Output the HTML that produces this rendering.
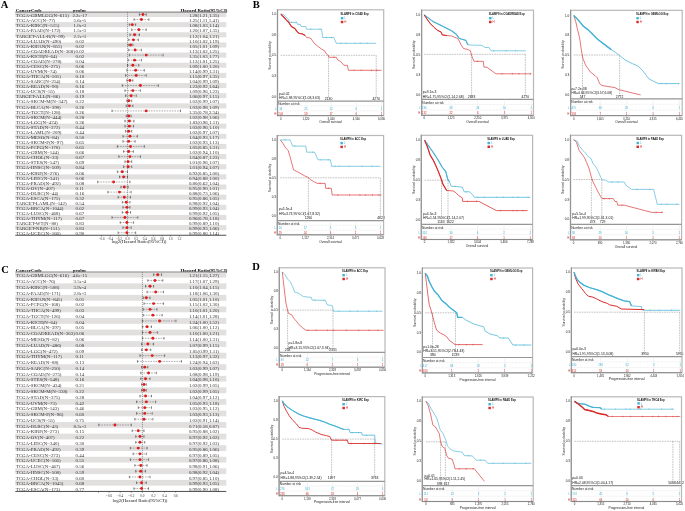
<!DOCTYPE html>
<html><head><meta charset="utf-8"><style>
html,body{margin:0;padding:0;background:#fff;}
body{width:685px;height:511px;overflow:hidden;}
svg{display:block;filter:blur(0.3px);}
</style></head><body>
<svg width="685" height="511" viewBox="0 0 685 511">
<rect width="685" height="511" fill="#fff"/>
<text x="0.8" y="8" font-family='"Liberation Serif", serif' font-weight="bold" font-size="10.5">A</text>
<rect x="15.3" y="11.96" width="211" height="5.08" fill="#e2dfdf"/>
<rect x="15.3" y="22.11" width="211" height="5.08" fill="#e2dfdf"/>
<rect x="15.3" y="32.26" width="211" height="5.08" fill="#e2dfdf"/>
<rect x="15.3" y="42.41" width="211" height="5.08" fill="#e2dfdf"/>
<rect x="15.3" y="52.56" width="211" height="5.08" fill="#e2dfdf"/>
<rect x="15.3" y="62.71" width="211" height="5.08" fill="#e2dfdf"/>
<rect x="15.3" y="72.86" width="211" height="5.08" fill="#e2dfdf"/>
<rect x="15.3" y="83.01" width="211" height="5.08" fill="#e2dfdf"/>
<rect x="15.3" y="93.16" width="211" height="5.08" fill="#e2dfdf"/>
<rect x="15.3" y="103.31" width="211" height="5.08" fill="#e2dfdf"/>
<rect x="15.3" y="113.46" width="211" height="5.08" fill="#e2dfdf"/>
<rect x="15.3" y="123.61" width="211" height="5.08" fill="#e2dfdf"/>
<rect x="15.3" y="133.76" width="211" height="5.08" fill="#e2dfdf"/>
<rect x="15.3" y="143.91" width="211" height="5.08" fill="#e2dfdf"/>
<rect x="15.3" y="154.06" width="211" height="5.08" fill="#e2dfdf"/>
<rect x="15.3" y="164.21" width="211" height="5.08" fill="#e2dfdf"/>
<rect x="15.3" y="174.36" width="211" height="5.08" fill="#e2dfdf"/>
<rect x="15.3" y="184.51" width="211" height="5.08" fill="#e2dfdf"/>
<rect x="15.3" y="194.66" width="211" height="5.08" fill="#e2dfdf"/>
<rect x="15.3" y="204.81" width="211" height="5.08" fill="#e2dfdf"/>
<rect x="15.3" y="214.96" width="211" height="5.08" fill="#e2dfdf"/>
<rect x="15.3" y="225.11" width="211" height="5.08" fill="#e2dfdf"/>
<g font-family='"Liberation Serif", serif' font-weight="bold" font-size="4.9" fill="#000">
<text x="15.8" y="11.66">CancerCode</text>
<text x="79.6" y="11.66" text-anchor="middle">pvalue</text>
<text x="204" y="11.66" text-anchor="middle">Hazard Ratio(95%CI)</text>
</g>
<line x1="15.3" y1="12.11" x2="226.3" y2="12.11" stroke="#8c8c8c" stroke-width="1.1"/>
<g font-family='"Liberation Serif", serif' font-size="4.9" fill="#333">
<text x="15.8" y="17.21">TCGA-GBMLGG(N=615)</text>
<text x="79.8" y="17.21" text-anchor="middle">2.2e-17</text>
<text x="204" y="17.21" text-anchor="middle">1.28(1.21,1.35)</text>
<text x="15.8" y="22.29">TCGA-ACC(N=77)</text>
<text x="79.8" y="22.29" text-anchor="middle">5.6e-5</text>
<text x="204" y="22.29" text-anchor="middle">1.25(1.11,1.41)</text>
<text x="15.8" y="27.36">TCGA-KIRC(N=515)</text>
<text x="79.8" y="27.36" text-anchor="middle">1.0e-3</text>
<text x="204" y="27.36" text-anchor="middle">1.08(1.03,1.14)</text>
<text x="15.8" y="32.44">TCGA-PAAD(N=172)</text>
<text x="79.8" y="32.44" text-anchor="middle">1.5e-3</text>
<text x="204" y="32.44" text-anchor="middle">1.20(1.07,1.35)</text>
<text x="15.8" y="37.51">TARGET-ALL-R(N=99)</text>
<text x="79.8" y="37.51" text-anchor="middle">2.2e-3</text>
<text x="204" y="37.51" text-anchor="middle">1.12(1.04,1.21)</text>
<text x="15.8" y="42.59">TCGA-LUAD(N=490)</text>
<text x="79.8" y="42.59" text-anchor="middle">0.02</text>
<text x="204" y="42.59" text-anchor="middle">1.10(1.02,1.19)</text>
<text x="15.8" y="47.66">TCGA-KIPAN(N=855)</text>
<text x="79.8" y="47.66" text-anchor="middle">0.02</text>
<text x="204" y="47.66" text-anchor="middle">1.05(1.01,1.09)</text>
<text x="15.8" y="52.73">TCGA-COADREAD(N=368)</text>
<text x="79.8" y="52.73" text-anchor="middle">0.02</text>
<text x="204" y="52.73" text-anchor="middle">1.13(1.02,1.25)</text>
<text x="15.8" y="57.81">TCGA-KICH(N=64)</text>
<text x="79.8" y="57.81" text-anchor="middle">0.02</text>
<text x="204" y="57.81" text-anchor="middle">1.35(1.03,1.77)</text>
<text x="15.8" y="62.89">TCGA-COAD(N=278)</text>
<text x="79.8" y="62.89" text-anchor="middle">0.04</text>
<text x="204" y="62.89" text-anchor="middle">1.12(1.01,1.25)</text>
<text x="15.8" y="67.96">TCGA-CESC(N=275)</text>
<text x="79.8" y="67.96" text-anchor="middle">0.06</text>
<text x="204" y="67.96" text-anchor="middle">1.09(1.00,1.20)</text>
<text x="15.8" y="73.03">TCGA-UVM(N=74)</text>
<text x="79.8" y="73.03" text-anchor="middle">0.06</text>
<text x="204" y="73.03" text-anchor="middle">1.14(0.99,1.31)</text>
<text x="15.8" y="78.11">TCGA-THCA(N=501)</text>
<text x="79.8" y="78.11" text-anchor="middle">0.10</text>
<text x="204" y="78.11" text-anchor="middle">1.15(0.97,1.35)</text>
<text x="15.8" y="83.19">TCGA-SARC(N=254)</text>
<text x="79.8" y="83.19" text-anchor="middle">0.14</text>
<text x="204" y="83.19" text-anchor="middle">1.04(0.99,1.09)</text>
<text x="15.8" y="88.26">TCGA-READ(N=90)</text>
<text x="79.8" y="88.26" text-anchor="middle">0.16</text>
<text x="204" y="88.26" text-anchor="middle">1.23(0.92,1.64)</text>
<text x="15.8" y="93.34">TCGA-UCS(N=55)</text>
<text x="79.8" y="93.34" text-anchor="middle">0.18</text>
<text x="204" y="93.34" text-anchor="middle">1.09(0.96,1.23)</text>
<text x="15.8" y="98.41">TARGET-ALL(N=86)</text>
<text x="79.8" y="98.41" text-anchor="middle">0.19</text>
<text x="204" y="98.41" text-anchor="middle">1.06(0.97,1.15)</text>
<text x="15.8" y="103.49">TCGA-SKCM-M(N=347)</text>
<text x="79.8" y="103.49" text-anchor="middle">0.22</text>
<text x="204" y="103.49" text-anchor="middle">1.02(0.99,1.07)</text>
<text x="15.8" y="108.56">TCGA-BLCA(N=398)</text>
<text x="79.8" y="108.56" text-anchor="middle">0.26</text>
<text x="204" y="108.56" text-anchor="middle">1.03(0.98,1.09)</text>
<text x="15.8" y="113.63">TCGA-TGCT(N=128)</text>
<text x="79.8" y="113.63" text-anchor="middle">0.26</text>
<text x="204" y="113.63" text-anchor="middle">1.35(0.78,2.34)</text>
<text x="15.8" y="118.71">TCGA-SKCM(N=444)</text>
<text x="79.8" y="118.71" text-anchor="middle">0.28</text>
<text x="204" y="118.71" text-anchor="middle">1.02(0.98,1.06)</text>
<text x="15.8" y="123.78">TCGA-LGG(N=474)</text>
<text x="79.8" y="123.78" text-anchor="middle">0.36</text>
<text x="204" y="123.78" text-anchor="middle">1.03(0.96,1.11)</text>
<text x="15.8" y="128.86">TCGA-STAD(N=372)</text>
<text x="79.8" y="128.86" text-anchor="middle">0.44</text>
<text x="204" y="128.86" text-anchor="middle">1.03(0.96,1.10)</text>
<text x="15.8" y="133.94">TCGA-LAML(N=209)</text>
<text x="79.8" y="133.94" text-anchor="middle">0.44</text>
<text x="204" y="133.94" text-anchor="middle">1.02(0.97,1.07)</text>
<text x="15.8" y="139.01">TCGA-MESO(N=84)</text>
<text x="79.8" y="139.01" text-anchor="middle">0.50</text>
<text x="204" y="139.01" text-anchor="middle">1.04(0.93,1.17)</text>
<text x="15.8" y="144.09">TCGA-SKCM-P(N=97)</text>
<text x="79.8" y="144.09" text-anchor="middle">0.65</text>
<text x="204" y="144.09" text-anchor="middle">1.02(0.93,1.13)</text>
<text x="15.8" y="149.16">TCGA-PCPG(N=170)</text>
<text x="79.8" y="149.16" text-anchor="middle">0.65</text>
<text x="204" y="149.16" text-anchor="middle">1.05(0.85,1.31)</text>
<text x="15.8" y="154.24">TCGA-GBM(N=144)</text>
<text x="79.8" y="154.24" text-anchor="middle">0.66</text>
<text x="204" y="154.24" text-anchor="middle">1.02(0.94,1.10)</text>
<text x="15.8" y="159.31">TCGA-CHOL(N=33)</text>
<text x="79.8" y="159.31" text-anchor="middle">0.67</text>
<text x="204" y="159.31" text-anchor="middle">1.04(0.87,1.23)</text>
<text x="15.8" y="164.39">TCGA-STES(N=547)</text>
<text x="79.8" y="164.39" text-anchor="middle">0.69</text>
<text x="204" y="164.39" text-anchor="middle">1.01(0.96,1.07)</text>
<text x="15.8" y="169.46">TCGA-HNSC(N=509)</text>
<text x="79.8" y="169.46" text-anchor="middle">0.84</text>
<text x="204" y="169.46" text-anchor="middle">1.01(0.94,1.07)</text>
<text x="15.8" y="174.54">TCGA-KIRP(N=276)</text>
<text x="79.8" y="174.54" text-anchor="middle">0.06</text>
<text x="204" y="174.54" text-anchor="middle">0.92(0.85,1.00)</text>
<text x="15.8" y="179.61">TCGA-LIHC(N=341)</text>
<text x="79.8" y="179.61" text-anchor="middle">0.06</text>
<text x="204" y="179.61" text-anchor="middle">0.94(0.88,1.00)</text>
<text x="15.8" y="184.69">TCGA-PRAD(N=492)</text>
<text x="79.8" y="184.69" text-anchor="middle">0.08</text>
<text x="204" y="184.69" text-anchor="middle">0.80(0.62,1.04)</text>
<text x="15.8" y="189.76">TCGA-OV(N=407)</text>
<text x="79.8" y="189.76" text-anchor="middle">0.11</text>
<text x="204" y="189.76" text-anchor="middle">0.95(0.90,1.01)</text>
<text x="15.8" y="194.84">TCGA-DLBC(N=44)</text>
<text x="79.8" y="194.84" text-anchor="middle">0.16</text>
<text x="204" y="194.84" text-anchor="middle">0.88(0.73,1.06)</text>
<text x="15.8" y="199.91">TCGA-ESCA(N=175)</text>
<text x="79.8" y="199.91" text-anchor="middle">0.32</text>
<text x="204" y="199.91" text-anchor="middle">0.95(0.86,1.05)</text>
<text x="15.8" y="204.99">TARGET-LAML(N=142)</text>
<text x="79.8" y="204.99" text-anchor="middle">0.54</text>
<text x="204" y="204.99" text-anchor="middle">0.98(0.92,1.04)</text>
<text x="15.8" y="210.06">TCGA-BRCA(N=1044)</text>
<text x="79.8" y="210.06" text-anchor="middle">0.62</text>
<text x="204" y="210.06" text-anchor="middle">0.99(0.93,1.04)</text>
<text x="15.8" y="215.14">TCGA-LUSC(N=468)</text>
<text x="79.8" y="215.14" text-anchor="middle">0.67</text>
<text x="204" y="215.14" text-anchor="middle">0.99(0.92,1.05)</text>
<text x="15.8" y="220.21">TCGA-THYM(N=117)</text>
<text x="79.8" y="220.21" text-anchor="middle">0.67</text>
<text x="204" y="220.21" text-anchor="middle">0.96(0.78,1.18)</text>
<text x="15.8" y="225.29">TARGET-WT(N=80)</text>
<text x="79.8" y="225.29" text-anchor="middle">0.83</text>
<text x="204" y="225.29" text-anchor="middle">0.99(0.89,1.10)</text>
<text x="15.8" y="230.36">TARGET-NB(N=151)</text>
<text x="79.8" y="230.36" text-anchor="middle">0.83</text>
<text x="204" y="230.36" text-anchor="middle">0.99(0.93,1.06)</text>
<text x="15.8" y="235.44">TCGA-UCEC(N=166)</text>
<text x="79.8" y="235.44" text-anchor="middle">0.90</text>
<text x="204" y="235.44" text-anchor="middle">0.99(0.86,1.14)</text>
</g>
<line x1="127.5" y1="12.11" x2="127.5" y2="235.26" stroke="#555" stroke-width="0.55" stroke-dasharray="1.1,0.9"/>
<line x1="139.38" y1="14.5" x2="146.2" y2="14.5" stroke="#6a6a6a" stroke-width="0.55" stroke-dasharray="1.6,1"/>
<line x1="139.38" y1="13.25" x2="139.38" y2="15.75" stroke="#333" stroke-width="0.6"/>
<line x1="146.2" y1="13.25" x2="146.2" y2="15.75" stroke="#333" stroke-width="0.6"/>
<circle cx="142.89" cy="14.5" r="1.45" fill="#e01b1b"/>
<line x1="134" y1="19.57" x2="148.91" y2="19.57" stroke="#6a6a6a" stroke-width="0.55" stroke-dasharray="1.6,1"/>
<line x1="134" y1="18.32" x2="134" y2="20.82" stroke="#333" stroke-width="0.6"/>
<line x1="148.91" y1="18.32" x2="148.91" y2="20.82" stroke="#333" stroke-width="0.6"/>
<circle cx="141.41" cy="19.57" r="1.45" fill="#e01b1b"/>
<line x1="129.34" y1="24.65" x2="135.67" y2="24.65" stroke="#6a6a6a" stroke-width="0.55" stroke-dasharray="1.6,1"/>
<line x1="129.34" y1="23.4" x2="129.34" y2="25.9" stroke="#333" stroke-width="0.6"/>
<line x1="135.67" y1="23.4" x2="135.67" y2="25.9" stroke="#333" stroke-width="0.6"/>
<circle cx="132.3" cy="24.65" r="1.45" fill="#e01b1b"/>
<line x1="131.72" y1="29.72" x2="146.2" y2="29.72" stroke="#6a6a6a" stroke-width="0.55" stroke-dasharray="1.6,1"/>
<line x1="131.72" y1="28.47" x2="131.72" y2="30.97" stroke="#333" stroke-width="0.6"/>
<line x1="146.2" y1="28.47" x2="146.2" y2="30.97" stroke="#333" stroke-width="0.6"/>
<circle cx="138.86" cy="29.72" r="1.45" fill="#e01b1b"/>
<line x1="129.94" y1="34.8" x2="139.38" y2="34.8" stroke="#6a6a6a" stroke-width="0.55" stroke-dasharray="1.6,1"/>
<line x1="129.94" y1="33.55" x2="129.94" y2="36.05" stroke="#333" stroke-width="0.6"/>
<line x1="139.38" y1="33.55" x2="139.38" y2="36.05" stroke="#333" stroke-width="0.6"/>
<circle cx="134.56" cy="34.8" r="1.45" fill="#e01b1b"/>
<line x1="128.73" y1="39.87" x2="138.34" y2="39.87" stroke="#6a6a6a" stroke-width="0.55" stroke-dasharray="1.6,1"/>
<line x1="128.73" y1="38.62" x2="128.73" y2="41.12" stroke="#333" stroke-width="0.6"/>
<line x1="138.34" y1="38.62" x2="138.34" y2="41.12" stroke="#333" stroke-width="0.6"/>
<circle cx="133.44" cy="39.87" r="1.45" fill="#e01b1b"/>
<line x1="128.12" y1="44.95" x2="132.87" y2="44.95" stroke="#6a6a6a" stroke-width="0.55" stroke-dasharray="1.6,1"/>
<line x1="128.12" y1="43.7" x2="128.12" y2="46.2" stroke="#333" stroke-width="0.6"/>
<line x1="132.87" y1="43.7" x2="132.87" y2="46.2" stroke="#333" stroke-width="0.6"/>
<circle cx="130.54" cy="44.95" r="1.45" fill="#e01b1b"/>
<line x1="128.73" y1="50.02" x2="141.41" y2="50.02" stroke="#6a6a6a" stroke-width="0.55" stroke-dasharray="1.6,1"/>
<line x1="128.73" y1="48.77" x2="128.73" y2="51.27" stroke="#333" stroke-width="0.6"/>
<line x1="141.41" y1="48.77" x2="141.41" y2="51.27" stroke="#333" stroke-width="0.6"/>
<circle cx="135.12" cy="50.02" r="1.45" fill="#e01b1b"/>
<line x1="129.34" y1="55.1" x2="163.09" y2="55.1" stroke="#6a6a6a" stroke-width="0.55" stroke-dasharray="1.6,1"/>
<line x1="129.34" y1="53.85" x2="129.34" y2="56.35" stroke="#333" stroke-width="0.6"/>
<line x1="163.09" y1="53.85" x2="163.09" y2="56.35" stroke="#333" stroke-width="0.6"/>
<circle cx="146.2" cy="55.1" r="1.45" fill="#e01b1b"/>
<line x1="128.12" y1="60.17" x2="141.41" y2="60.17" stroke="#6a6a6a" stroke-width="0.55" stroke-dasharray="1.6,1"/>
<line x1="128.12" y1="58.92" x2="128.12" y2="61.42" stroke="#333" stroke-width="0.6"/>
<line x1="141.41" y1="58.92" x2="141.41" y2="61.42" stroke="#333" stroke-width="0.6"/>
<circle cx="134.56" cy="60.17" r="1.45" fill="#e01b1b"/>
<line x1="127.5" y1="65.25" x2="138.86" y2="65.25" stroke="#6a6a6a" stroke-width="0.55" stroke-dasharray="1.6,1"/>
<line x1="127.5" y1="64" x2="127.5" y2="66.5" stroke="#333" stroke-width="0.6"/>
<line x1="138.86" y1="64" x2="138.86" y2="66.5" stroke="#333" stroke-width="0.6"/>
<circle cx="132.87" cy="65.25" r="1.45" fill="#e01b1b"/>
<line x1="126.87" y1="70.32" x2="144.33" y2="70.32" stroke="#6a6a6a" stroke-width="0.55" stroke-dasharray="1.6,1"/>
<line x1="126.87" y1="69.07" x2="126.87" y2="71.57" stroke="#333" stroke-width="0.6"/>
<line x1="144.33" y1="69.07" x2="144.33" y2="71.57" stroke="#333" stroke-width="0.6"/>
<circle cx="135.67" cy="70.32" r="1.45" fill="#e01b1b"/>
<line x1="125.6" y1="75.4" x2="146.2" y2="75.4" stroke="#6a6a6a" stroke-width="0.55" stroke-dasharray="1.6,1"/>
<line x1="125.6" y1="74.15" x2="125.6" y2="76.65" stroke="#333" stroke-width="0.6"/>
<line x1="146.2" y1="74.15" x2="146.2" y2="76.65" stroke="#333" stroke-width="0.6"/>
<circle cx="136.21" cy="75.4" r="1.45" fill="#e01b1b"/>
<line x1="126.87" y1="80.47" x2="132.87" y2="80.47" stroke="#6a6a6a" stroke-width="0.55" stroke-dasharray="1.6,1"/>
<line x1="126.87" y1="79.22" x2="126.87" y2="81.72" stroke="#333" stroke-width="0.6"/>
<line x1="132.87" y1="79.22" x2="132.87" y2="81.72" stroke="#333" stroke-width="0.6"/>
<circle cx="129.94" cy="80.47" r="1.45" fill="#e01b1b"/>
<line x1="122.3" y1="85.55" x2="158.33" y2="85.55" stroke="#6a6a6a" stroke-width="0.55" stroke-dasharray="1.6,1"/>
<line x1="122.3" y1="84.3" x2="122.3" y2="86.8" stroke="#333" stroke-width="0.6"/>
<line x1="158.33" y1="84.3" x2="158.33" y2="86.8" stroke="#333" stroke-width="0.6"/>
<circle cx="140.4" cy="85.55" r="1.45" fill="#e01b1b"/>
<line x1="124.96" y1="90.62" x2="140.4" y2="90.62" stroke="#6a6a6a" stroke-width="0.55" stroke-dasharray="1.6,1"/>
<line x1="124.96" y1="89.37" x2="124.96" y2="91.87" stroke="#333" stroke-width="0.6"/>
<line x1="140.4" y1="89.37" x2="140.4" y2="91.87" stroke="#333" stroke-width="0.6"/>
<circle cx="132.87" cy="90.62" r="1.45" fill="#e01b1b"/>
<line x1="125.6" y1="95.7" x2="136.21" y2="95.7" stroke="#6a6a6a" stroke-width="0.55" stroke-dasharray="1.6,1"/>
<line x1="125.6" y1="94.45" x2="125.6" y2="96.95" stroke="#333" stroke-width="0.6"/>
<line x1="136.21" y1="94.45" x2="136.21" y2="96.95" stroke="#333" stroke-width="0.6"/>
<circle cx="131.13" cy="95.7" r="1.45" fill="#e01b1b"/>
<line x1="126.87" y1="100.77" x2="131.72" y2="100.77" stroke="#6a6a6a" stroke-width="0.55" stroke-dasharray="1.6,1"/>
<line x1="126.87" y1="99.52" x2="126.87" y2="102.02" stroke="#333" stroke-width="0.6"/>
<line x1="131.72" y1="99.52" x2="131.72" y2="102.02" stroke="#333" stroke-width="0.6"/>
<circle cx="128.73" cy="100.77" r="1.45" fill="#e01b1b"/>
<line x1="126.24" y1="105.85" x2="132.87" y2="105.85" stroke="#6a6a6a" stroke-width="0.55" stroke-dasharray="1.6,1"/>
<line x1="126.24" y1="104.6" x2="126.24" y2="107.1" stroke="#333" stroke-width="0.6"/>
<line x1="132.87" y1="104.6" x2="132.87" y2="107.1" stroke="#333" stroke-width="0.6"/>
<circle cx="129.34" cy="105.85" r="1.45" fill="#e01b1b"/>
<line x1="112.01" y1="110.92" x2="180.49" y2="110.92" stroke="#6a6a6a" stroke-width="0.55" stroke-dasharray="1.6,1"/>
<line x1="112.01" y1="109.67" x2="112.01" y2="112.17" stroke="#333" stroke-width="0.6"/>
<line x1="180.49" y1="109.67" x2="180.49" y2="112.17" stroke="#333" stroke-width="0.6"/>
<circle cx="146.2" cy="110.92" r="1.45" fill="#e01b1b"/>
<line x1="126.24" y1="116" x2="131.13" y2="116" stroke="#6a6a6a" stroke-width="0.55" stroke-dasharray="1.6,1"/>
<line x1="126.24" y1="114.75" x2="126.24" y2="117.25" stroke="#333" stroke-width="0.6"/>
<line x1="131.13" y1="114.75" x2="131.13" y2="117.25" stroke="#333" stroke-width="0.6"/>
<circle cx="128.73" cy="116" r="1.45" fill="#e01b1b"/>
<line x1="124.96" y1="121.07" x2="134" y2="121.07" stroke="#6a6a6a" stroke-width="0.55" stroke-dasharray="1.6,1"/>
<line x1="124.96" y1="119.82" x2="124.96" y2="122.32" stroke="#333" stroke-width="0.6"/>
<line x1="134" y1="119.82" x2="134" y2="122.32" stroke="#333" stroke-width="0.6"/>
<circle cx="129.34" cy="121.07" r="1.45" fill="#e01b1b"/>
<line x1="124.96" y1="126.15" x2="133.44" y2="126.15" stroke="#6a6a6a" stroke-width="0.55" stroke-dasharray="1.6,1"/>
<line x1="124.96" y1="124.9" x2="124.96" y2="127.4" stroke="#333" stroke-width="0.6"/>
<line x1="133.44" y1="124.9" x2="133.44" y2="127.4" stroke="#333" stroke-width="0.6"/>
<circle cx="129.34" cy="126.15" r="1.45" fill="#e01b1b"/>
<line x1="125.6" y1="131.22" x2="131.72" y2="131.22" stroke="#6a6a6a" stroke-width="0.55" stroke-dasharray="1.6,1"/>
<line x1="125.6" y1="129.97" x2="125.6" y2="132.47" stroke="#333" stroke-width="0.6"/>
<line x1="131.72" y1="129.97" x2="131.72" y2="132.47" stroke="#333" stroke-width="0.6"/>
<circle cx="128.73" cy="131.22" r="1.45" fill="#e01b1b"/>
<line x1="122.98" y1="136.3" x2="137.29" y2="136.3" stroke="#6a6a6a" stroke-width="0.55" stroke-dasharray="1.6,1"/>
<line x1="122.98" y1="135.05" x2="122.98" y2="137.55" stroke="#333" stroke-width="0.6"/>
<line x1="137.29" y1="135.05" x2="137.29" y2="137.55" stroke="#333" stroke-width="0.6"/>
<circle cx="129.94" cy="136.3" r="1.45" fill="#e01b1b"/>
<line x1="122.98" y1="141.37" x2="135.12" y2="141.37" stroke="#6a6a6a" stroke-width="0.55" stroke-dasharray="1.6,1"/>
<line x1="122.98" y1="140.12" x2="122.98" y2="142.62" stroke="#333" stroke-width="0.6"/>
<line x1="135.12" y1="140.12" x2="135.12" y2="142.62" stroke="#333" stroke-width="0.6"/>
<circle cx="128.73" cy="141.37" r="1.45" fill="#e01b1b"/>
<line x1="117.37" y1="146.45" x2="144.33" y2="146.45" stroke="#6a6a6a" stroke-width="0.55" stroke-dasharray="1.6,1"/>
<line x1="117.37" y1="145.2" x2="117.37" y2="147.7" stroke="#333" stroke-width="0.6"/>
<line x1="144.33" y1="145.2" x2="144.33" y2="147.7" stroke="#333" stroke-width="0.6"/>
<circle cx="130.54" cy="146.45" r="1.45" fill="#e01b1b"/>
<line x1="123.64" y1="151.52" x2="133.44" y2="151.52" stroke="#6a6a6a" stroke-width="0.55" stroke-dasharray="1.6,1"/>
<line x1="123.64" y1="150.27" x2="123.64" y2="152.77" stroke="#333" stroke-width="0.6"/>
<line x1="133.44" y1="150.27" x2="133.44" y2="152.77" stroke="#333" stroke-width="0.6"/>
<circle cx="128.73" cy="151.52" r="1.45" fill="#e01b1b"/>
<line x1="118.82" y1="156.6" x2="140.4" y2="156.6" stroke="#6a6a6a" stroke-width="0.55" stroke-dasharray="1.6,1"/>
<line x1="118.82" y1="155.35" x2="118.82" y2="157.85" stroke="#333" stroke-width="0.6"/>
<line x1="140.4" y1="155.35" x2="140.4" y2="157.85" stroke="#333" stroke-width="0.6"/>
<circle cx="129.94" cy="156.6" r="1.45" fill="#e01b1b"/>
<line x1="124.96" y1="161.67" x2="131.72" y2="161.67" stroke="#6a6a6a" stroke-width="0.55" stroke-dasharray="1.6,1"/>
<line x1="124.96" y1="160.42" x2="124.96" y2="162.92" stroke="#333" stroke-width="0.6"/>
<line x1="131.72" y1="160.42" x2="131.72" y2="162.92" stroke="#333" stroke-width="0.6"/>
<circle cx="128.12" cy="161.67" r="1.45" fill="#e01b1b"/>
<line x1="123.64" y1="166.75" x2="131.72" y2="166.75" stroke="#6a6a6a" stroke-width="0.55" stroke-dasharray="1.6,1"/>
<line x1="123.64" y1="165.5" x2="123.64" y2="168" stroke="#333" stroke-width="0.6"/>
<line x1="131.72" y1="165.5" x2="131.72" y2="168" stroke="#333" stroke-width="0.6"/>
<circle cx="128.12" cy="166.75" r="1.45" fill="#e01b1b"/>
<line x1="117.37" y1="171.82" x2="127.5" y2="171.82" stroke="#6a6a6a" stroke-width="0.55" stroke-dasharray="1.6,1"/>
<line x1="117.37" y1="170.57" x2="117.37" y2="173.07" stroke="#333" stroke-width="0.6"/>
<line x1="127.5" y1="170.57" x2="127.5" y2="173.07" stroke="#333" stroke-width="0.6"/>
<circle cx="122.3" cy="171.82" r="1.45" fill="#e01b1b"/>
<line x1="119.53" y1="176.9" x2="127.5" y2="176.9" stroke="#6a6a6a" stroke-width="0.55" stroke-dasharray="1.6,1"/>
<line x1="119.53" y1="175.65" x2="119.53" y2="178.15" stroke="#333" stroke-width="0.6"/>
<line x1="127.5" y1="175.65" x2="127.5" y2="178.15" stroke="#333" stroke-width="0.6"/>
<circle cx="123.64" cy="176.9" r="1.45" fill="#e01b1b"/>
<line x1="97.71" y1="181.97" x2="129.94" y2="181.97" stroke="#6a6a6a" stroke-width="0.55" stroke-dasharray="1.6,1"/>
<line x1="97.71" y1="180.72" x2="97.71" y2="183.22" stroke="#333" stroke-width="0.6"/>
<line x1="129.94" y1="180.72" x2="129.94" y2="183.22" stroke="#333" stroke-width="0.6"/>
<circle cx="113.59" cy="181.97" r="1.45" fill="#e01b1b"/>
<line x1="120.93" y1="187.05" x2="128.12" y2="187.05" stroke="#6a6a6a" stroke-width="0.55" stroke-dasharray="1.6,1"/>
<line x1="120.93" y1="185.8" x2="120.93" y2="188.3" stroke="#333" stroke-width="0.6"/>
<line x1="128.12" y1="185.8" x2="128.12" y2="188.3" stroke="#333" stroke-width="0.6"/>
<circle cx="124.3" cy="187.05" r="1.45" fill="#e01b1b"/>
<line x1="107.89" y1="192.12" x2="131.13" y2="192.12" stroke="#6a6a6a" stroke-width="0.55" stroke-dasharray="1.6,1"/>
<line x1="107.89" y1="190.87" x2="107.89" y2="193.37" stroke="#333" stroke-width="0.6"/>
<line x1="131.13" y1="190.87" x2="131.13" y2="193.37" stroke="#333" stroke-width="0.6"/>
<circle cx="119.53" cy="192.12" r="1.45" fill="#e01b1b"/>
<line x1="118.1" y1="197.2" x2="130.54" y2="197.2" stroke="#6a6a6a" stroke-width="0.55" stroke-dasharray="1.6,1"/>
<line x1="118.1" y1="195.95" x2="118.1" y2="198.45" stroke="#333" stroke-width="0.6"/>
<line x1="130.54" y1="195.95" x2="130.54" y2="198.45" stroke="#333" stroke-width="0.6"/>
<circle cx="124.3" cy="197.2" r="1.45" fill="#e01b1b"/>
<line x1="122.3" y1="202.27" x2="129.94" y2="202.27" stroke="#6a6a6a" stroke-width="0.55" stroke-dasharray="1.6,1"/>
<line x1="122.3" y1="201.02" x2="122.3" y2="203.52" stroke="#333" stroke-width="0.6"/>
<line x1="129.94" y1="201.02" x2="129.94" y2="203.52" stroke="#333" stroke-width="0.6"/>
<circle cx="126.24" cy="202.27" r="1.45" fill="#e01b1b"/>
<line x1="122.98" y1="207.35" x2="129.94" y2="207.35" stroke="#6a6a6a" stroke-width="0.55" stroke-dasharray="1.6,1"/>
<line x1="122.98" y1="206.1" x2="122.98" y2="208.6" stroke="#333" stroke-width="0.6"/>
<line x1="129.94" y1="206.1" x2="129.94" y2="208.6" stroke="#333" stroke-width="0.6"/>
<circle cx="126.87" cy="207.35" r="1.45" fill="#e01b1b"/>
<line x1="122.3" y1="212.42" x2="130.54" y2="212.42" stroke="#6a6a6a" stroke-width="0.55" stroke-dasharray="1.6,1"/>
<line x1="122.3" y1="211.17" x2="122.3" y2="213.67" stroke="#333" stroke-width="0.6"/>
<line x1="130.54" y1="211.17" x2="130.54" y2="213.67" stroke="#333" stroke-width="0.6"/>
<circle cx="126.87" cy="212.42" r="1.45" fill="#e01b1b"/>
<line x1="112.01" y1="217.5" x2="137.82" y2="217.5" stroke="#6a6a6a" stroke-width="0.55" stroke-dasharray="1.6,1"/>
<line x1="112.01" y1="216.25" x2="112.01" y2="218.75" stroke="#333" stroke-width="0.6"/>
<line x1="137.82" y1="216.25" x2="137.82" y2="218.75" stroke="#333" stroke-width="0.6"/>
<circle cx="124.96" cy="217.5" r="1.45" fill="#e01b1b"/>
<line x1="120.24" y1="222.57" x2="133.44" y2="222.57" stroke="#6a6a6a" stroke-width="0.55" stroke-dasharray="1.6,1"/>
<line x1="120.24" y1="221.32" x2="120.24" y2="223.82" stroke="#333" stroke-width="0.6"/>
<line x1="133.44" y1="221.32" x2="133.44" y2="223.82" stroke="#333" stroke-width="0.6"/>
<circle cx="126.87" cy="222.57" r="1.45" fill="#e01b1b"/>
<line x1="122.98" y1="227.65" x2="131.13" y2="227.65" stroke="#6a6a6a" stroke-width="0.55" stroke-dasharray="1.6,1"/>
<line x1="122.98" y1="226.4" x2="122.98" y2="228.9" stroke="#333" stroke-width="0.6"/>
<line x1="131.13" y1="226.4" x2="131.13" y2="228.9" stroke="#333" stroke-width="0.6"/>
<circle cx="126.87" cy="227.65" r="1.45" fill="#e01b1b"/>
<line x1="118.1" y1="232.72" x2="135.67" y2="232.72" stroke="#6a6a6a" stroke-width="0.55" stroke-dasharray="1.6,1"/>
<line x1="118.1" y1="231.47" x2="118.1" y2="233.97" stroke="#333" stroke-width="0.6"/>
<line x1="135.67" y1="231.47" x2="135.67" y2="233.97" stroke="#333" stroke-width="0.6"/>
<circle cx="126.87" cy="232.72" r="1.45" fill="#e01b1b"/>
<line x1="15.3" y1="235.26" x2="226.3" y2="235.26" stroke="#222" stroke-width="0.8"/>
<g font-family='"Liberation Serif", serif' font-size="3.3" fill="#333" text-anchor="middle">
<line x1="101.58" y1="235.26" x2="101.58" y2="236.56" stroke="#333" stroke-width="0.5"/>
<text x="101.58" y="239.86">−0.6</text>
<line x1="110.22" y1="235.26" x2="110.22" y2="236.56" stroke="#333" stroke-width="0.5"/>
<text x="110.22" y="239.86">−0.4</text>
<line x1="118.86" y1="235.26" x2="118.86" y2="236.56" stroke="#333" stroke-width="0.5"/>
<text x="118.86" y="239.86">−0.2</text>
<line x1="127.5" y1="235.26" x2="127.5" y2="236.56" stroke="#333" stroke-width="0.5"/>
<text x="127.5" y="239.86">0.0</text>
<line x1="136.14" y1="235.26" x2="136.14" y2="236.56" stroke="#333" stroke-width="0.5"/>
<text x="136.14" y="239.86">0.2</text>
<line x1="144.78" y1="235.26" x2="144.78" y2="236.56" stroke="#333" stroke-width="0.5"/>
<text x="144.78" y="239.86">0.4</text>
<line x1="153.42" y1="235.26" x2="153.42" y2="236.56" stroke="#333" stroke-width="0.5"/>
<text x="153.42" y="239.86">0.6</text>
<line x1="162.06" y1="235.26" x2="162.06" y2="236.56" stroke="#333" stroke-width="0.5"/>
<text x="162.06" y="239.86">0.8</text>
<line x1="170.7" y1="235.26" x2="170.7" y2="236.56" stroke="#333" stroke-width="0.5"/>
<text x="170.7" y="239.86">1.0</text>
<line x1="179.34" y1="235.26" x2="179.34" y2="236.56" stroke="#333" stroke-width="0.5"/>
<text x="179.34" y="239.86">1.2</text>
</g>
<text x="139" y="243.16" font-family='"Liberation Serif", serif' font-size="4.9" fill="#222" text-anchor="middle">log2(Hazard Ratio(95%CI))</text>
<text x="1.2" y="273.3" font-family='"Liberation Serif", serif' font-weight="bold" font-size="10.5">C</text>
<rect x="15.3" y="271.8" width="211" height="5.78" fill="#e2dfdf"/>
<rect x="15.3" y="283.36" width="211" height="5.78" fill="#e2dfdf"/>
<rect x="15.3" y="294.92" width="211" height="5.78" fill="#e2dfdf"/>
<rect x="15.3" y="306.48" width="211" height="5.78" fill="#e2dfdf"/>
<rect x="15.3" y="318.04" width="211" height="5.78" fill="#e2dfdf"/>
<rect x="15.3" y="329.6" width="211" height="5.78" fill="#e2dfdf"/>
<rect x="15.3" y="341.16" width="211" height="5.78" fill="#e2dfdf"/>
<rect x="15.3" y="352.72" width="211" height="5.78" fill="#e2dfdf"/>
<rect x="15.3" y="364.28" width="211" height="5.78" fill="#e2dfdf"/>
<rect x="15.3" y="375.84" width="211" height="5.78" fill="#e2dfdf"/>
<rect x="15.3" y="387.4" width="211" height="5.78" fill="#e2dfdf"/>
<rect x="15.3" y="398.96" width="211" height="5.78" fill="#e2dfdf"/>
<rect x="15.3" y="410.52" width="211" height="5.78" fill="#e2dfdf"/>
<rect x="15.3" y="422.08" width="211" height="5.78" fill="#e2dfdf"/>
<rect x="15.3" y="433.64" width="211" height="5.78" fill="#e2dfdf"/>
<rect x="15.3" y="445.2" width="211" height="5.78" fill="#e2dfdf"/>
<rect x="15.3" y="456.76" width="211" height="5.78" fill="#e2dfdf"/>
<rect x="15.3" y="468.32" width="211" height="5.78" fill="#e2dfdf"/>
<rect x="15.3" y="479.88" width="211" height="5.78" fill="#e2dfdf"/>
<g font-family='"Liberation Serif", serif' font-weight="bold" font-size="4.9" fill="#000">
<text x="15.8" y="271.5">CancerCode</text>
<text x="79.6" y="271.5" text-anchor="middle">pvalue</text>
<text x="204" y="271.5" text-anchor="middle">Hazard Ratio(95%CI)</text>
</g>
<line x1="15.3" y1="271.95" x2="226.3" y2="271.95" stroke="#8c8c8c" stroke-width="1.1"/>
<g font-family='"Liberation Serif", serif' font-size="4.9" fill="#333">
<text x="15.8" y="277.4">TCGA-GBMLGG(N=616)</text>
<text x="79.8" y="277.4" text-anchor="middle">4.6e-15</text>
<text x="204" y="277.4" text-anchor="middle">1.21(1.15,1.27)</text>
<text x="15.8" y="283.18">TCGA-ACC(N=76)</text>
<text x="79.8" y="283.18" text-anchor="middle">3.5e-4</text>
<text x="204" y="283.18" text-anchor="middle">1.17(1.07,1.29)</text>
<text x="15.8" y="288.96">TCGA-KIRC(N=508)</text>
<text x="79.8" y="288.96" text-anchor="middle">3.9e-4</text>
<text x="204" y="288.96" text-anchor="middle">1.10(1.04,1.15)</text>
<text x="15.8" y="294.74">TCGA-PAAD(N=171)</text>
<text x="79.8" y="294.74" text-anchor="middle">2.8e-3</text>
<text x="204" y="294.74" text-anchor="middle">1.18(1.06,1.30)</text>
<text x="15.8" y="300.52">TCGA-KIPAN(N=845)</text>
<text x="79.8" y="300.52" text-anchor="middle">0.01</text>
<text x="204" y="300.52" text-anchor="middle">1.05(1.01,1.10)</text>
<text x="15.8" y="306.3">TCGA-PCPG(N=168)</text>
<text x="79.8" y="306.3" text-anchor="middle">0.02</text>
<text x="204" y="306.3" text-anchor="middle">1.15(1.02,1.30)</text>
<text x="15.8" y="312.08">TCGA-THCA(N=499)</text>
<text x="79.8" y="312.08" text-anchor="middle">0.03</text>
<text x="204" y="312.08" text-anchor="middle">1.10(1.01,1.20)</text>
<text x="15.8" y="317.86">TCGA-TGCT(N=126)</text>
<text x="79.8" y="317.86" text-anchor="middle">0.04</text>
<text x="204" y="317.86" text-anchor="middle">1.14(1.01,1.28)</text>
<text x="15.8" y="323.64">TCGA-KICH(N=64)</text>
<text x="79.8" y="323.64" text-anchor="middle">0.04</text>
<text x="204" y="323.64" text-anchor="middle">1.24(1.00,1.52)</text>
<text x="15.8" y="329.42">TCGA-BLCA(N=397)</text>
<text x="79.8" y="329.42" text-anchor="middle">0.05</text>
<text x="204" y="329.42" text-anchor="middle">1.06(1.00,1.12)</text>
<text x="15.8" y="335.2">TCGA-COADREAD(N=363)</text>
<text x="79.8" y="335.2" text-anchor="middle">0.06</text>
<text x="204" y="335.2" text-anchor="middle">1.10(1.00,1.21)</text>
<text x="15.8" y="340.98">TCGA-MESO(N=82)</text>
<text x="79.8" y="340.98" text-anchor="middle">0.06</text>
<text x="204" y="340.98" text-anchor="middle">1.14(1.00,1.31)</text>
<text x="15.8" y="346.76">TCGA-LUAD(N=486)</text>
<text x="79.8" y="346.76" text-anchor="middle">0.08</text>
<text x="204" y="346.76" text-anchor="middle">1.07(0.99,1.15)</text>
<text x="15.8" y="352.54">TCGA-LGG(N=472)</text>
<text x="79.8" y="352.54" text-anchor="middle">0.09</text>
<text x="204" y="352.54" text-anchor="middle">1.05(0.99,1.11)</text>
<text x="15.8" y="358.32">TCGA-THYM(N=117)</text>
<text x="79.8" y="358.32" text-anchor="middle">0.11</text>
<text x="204" y="358.32" text-anchor="middle">1.13(0.97,1.32)</text>
<text x="15.8" y="364.1">TCGA-READ(N=88)</text>
<text x="79.8" y="364.1" text-anchor="middle">0.13</text>
<text x="204" y="364.1" text-anchor="middle">1.24(0.94,1.63)</text>
<text x="15.8" y="369.88">TCGA-SARC(N=250)</text>
<text x="79.8" y="369.88" text-anchor="middle">0.14</text>
<text x="204" y="369.88" text-anchor="middle">1.03(0.99,1.07)</text>
<text x="15.8" y="375.66">TCGA-COAD(N=275)</text>
<text x="79.8" y="375.66" text-anchor="middle">0.14</text>
<text x="204" y="375.66" text-anchor="middle">1.08(0.98,1.19)</text>
<text x="15.8" y="381.44">TCGA-STES(N=548)</text>
<text x="79.8" y="381.44" text-anchor="middle">0.16</text>
<text x="204" y="381.44" text-anchor="middle">1.04(0.98,1.10)</text>
<text x="15.8" y="387.22">TCGA-SKCM(N=434)</text>
<text x="79.8" y="387.22" text-anchor="middle">0.21</text>
<text x="204" y="387.22" text-anchor="middle">1.02(0.99,1.05)</text>
<text x="15.8" y="393">TCGA-SKCM-M(N=338)</text>
<text x="79.8" y="393" text-anchor="middle">0.22</text>
<text x="204" y="393" text-anchor="middle">1.02(0.99,1.05)</text>
<text x="15.8" y="398.78">TCGA-STAD(N=375)</text>
<text x="79.8" y="398.78" text-anchor="middle">0.28</text>
<text x="204" y="398.78" text-anchor="middle">1.04(0.97,1.12)</text>
<text x="15.8" y="404.56">TCGA-UVM(N=73)</text>
<text x="79.8" y="404.56" text-anchor="middle">0.42</text>
<text x="204" y="404.56" text-anchor="middle">1.05(0.93,1.18)</text>
<text x="15.8" y="410.34">TCGA-GBM(N=143)</text>
<text x="79.8" y="410.34" text-anchor="middle">0.46</text>
<text x="204" y="410.34" text-anchor="middle">1.03(0.95,1.12)</text>
<text x="15.8" y="416.12">TCGA-SKCM-P(N=96)</text>
<text x="79.8" y="416.12" text-anchor="middle">0.60</text>
<text x="204" y="416.12" text-anchor="middle">1.03(0.93,1.13)</text>
<text x="15.8" y="421.9">TCGA-UCS(N=55)</text>
<text x="79.8" y="421.9" text-anchor="middle">0.75</text>
<text x="204" y="421.9" text-anchor="middle">1.02(0.91,1.14)</text>
<text x="15.8" y="427.68">TCGA-DLBC(N=43)</text>
<text x="79.8" y="427.68" text-anchor="middle">8.3e-3</text>
<text x="204" y="427.68" text-anchor="middle">0.71(0.58,0.87)</text>
<text x="15.8" y="433.46">TCGA-KIRP(N=273)</text>
<text x="79.8" y="433.46" text-anchor="middle">0.15</text>
<text x="204" y="433.46" text-anchor="middle">0.95(0.88,1.02)</text>
<text x="15.8" y="439.24">TCGA-OV(N=407)</text>
<text x="79.8" y="439.24" text-anchor="middle">0.22</text>
<text x="204" y="439.24" text-anchor="middle">0.97(0.92,1.02)</text>
<text x="15.8" y="445.02">TCGA-LIHC(N=340)</text>
<text x="79.8" y="445.02" text-anchor="middle">0.30</text>
<text x="204" y="445.02" text-anchor="middle">0.97(0.92,1.03)</text>
<text x="15.8" y="450.8">TCGA-PRAD(N=492)</text>
<text x="79.8" y="450.8" text-anchor="middle">0.39</text>
<text x="204" y="450.8" text-anchor="middle">0.95(0.86,1.06)</text>
<text x="15.8" y="456.58">TCGA-CESC(N=273)</text>
<text x="79.8" y="456.58" text-anchor="middle">0.44</text>
<text x="204" y="456.58" text-anchor="middle">0.97(0.89,1.05)</text>
<text x="15.8" y="462.36">TCGA-UCEC(N=166)</text>
<text x="79.8" y="462.36" text-anchor="middle">0.55</text>
<text x="204" y="462.36" text-anchor="middle">0.97(0.86,1.08)</text>
<text x="15.8" y="468.14">TCGA-LUSC(N=467)</text>
<text x="79.8" y="468.14" text-anchor="middle">0.56</text>
<text x="204" y="468.14" text-anchor="middle">0.98(0.91,1.06)</text>
<text x="15.8" y="473.92">TCGA-HNSC(N=508)</text>
<text x="79.8" y="473.92" text-anchor="middle">0.59</text>
<text x="204" y="473.92" text-anchor="middle">0.98(0.92,1.04)</text>
<text x="15.8" y="479.7">TCGA-CHOL(N=33)</text>
<text x="79.8" y="479.7" text-anchor="middle">0.60</text>
<text x="204" y="479.7" text-anchor="middle">0.97(0.85,1.10)</text>
<text x="15.8" y="485.48">TCGA-BRCA(N=1043)</text>
<text x="79.8" y="485.48" text-anchor="middle">0.68</text>
<text x="204" y="485.48" text-anchor="middle">0.99(0.93,1.05)</text>
<text x="15.8" y="491.26">TCGA-ESCA(N=173)</text>
<text x="79.8" y="491.26" text-anchor="middle">0.77</text>
<text x="204" y="491.26" text-anchor="middle">0.99(0.90,1.08)</text>
</g>
<line x1="142.4" y1="271.95" x2="142.4" y2="491.44" stroke="#555" stroke-width="0.55" stroke-dasharray="1.1,0.9"/>
<line x1="153.59" y1="274.69" x2="161.54" y2="274.69" stroke="#6a6a6a" stroke-width="0.55" stroke-dasharray="1.6,1"/>
<line x1="153.59" y1="273.44" x2="153.59" y2="275.94" stroke="#333" stroke-width="0.6"/>
<line x1="161.54" y1="273.44" x2="161.54" y2="275.94" stroke="#333" stroke-width="0.6"/>
<circle cx="157.66" cy="274.69" r="1.45" fill="#e01b1b"/>
<line x1="147.82" y1="280.47" x2="162.79" y2="280.47" stroke="#6a6a6a" stroke-width="0.55" stroke-dasharray="1.6,1"/>
<line x1="147.82" y1="279.22" x2="147.82" y2="281.72" stroke="#333" stroke-width="0.6"/>
<line x1="162.79" y1="279.22" x2="162.79" y2="281.72" stroke="#333" stroke-width="0.6"/>
<circle cx="154.97" cy="280.47" r="1.45" fill="#e01b1b"/>
<line x1="145.54" y1="286.25" x2="153.59" y2="286.25" stroke="#6a6a6a" stroke-width="0.55" stroke-dasharray="1.6,1"/>
<line x1="145.54" y1="285" x2="145.54" y2="287.5" stroke="#333" stroke-width="0.6"/>
<line x1="153.59" y1="285" x2="153.59" y2="287.5" stroke="#333" stroke-width="0.6"/>
<circle cx="150.03" cy="286.25" r="1.45" fill="#e01b1b"/>
<line x1="147.07" y1="292.03" x2="163.41" y2="292.03" stroke="#6a6a6a" stroke-width="0.55" stroke-dasharray="1.6,1"/>
<line x1="147.07" y1="290.78" x2="147.07" y2="293.28" stroke="#333" stroke-width="0.6"/>
<line x1="163.41" y1="290.78" x2="163.41" y2="293.28" stroke="#333" stroke-width="0.6"/>
<circle cx="155.65" cy="292.03" r="1.45" fill="#e01b1b"/>
<line x1="143.2" y1="297.81" x2="150.03" y2="297.81" stroke="#6a6a6a" stroke-width="0.55" stroke-dasharray="1.6,1"/>
<line x1="143.2" y1="296.56" x2="143.2" y2="299.06" stroke="#333" stroke-width="0.6"/>
<line x1="150.03" y1="296.56" x2="150.03" y2="299.06" stroke="#333" stroke-width="0.6"/>
<circle cx="146.31" cy="297.81" r="1.45" fill="#e01b1b"/>
<line x1="143.99" y1="303.59" x2="163.41" y2="303.59" stroke="#6a6a6a" stroke-width="0.55" stroke-dasharray="1.6,1"/>
<line x1="143.99" y1="302.34" x2="143.99" y2="304.84" stroke="#333" stroke-width="0.6"/>
<line x1="163.41" y1="302.34" x2="163.41" y2="304.84" stroke="#333" stroke-width="0.6"/>
<circle cx="153.59" cy="303.59" r="1.45" fill="#e01b1b"/>
<line x1="143.2" y1="309.37" x2="157" y2="309.37" stroke="#6a6a6a" stroke-width="0.55" stroke-dasharray="1.6,1"/>
<line x1="143.2" y1="308.12" x2="143.2" y2="310.62" stroke="#333" stroke-width="0.6"/>
<line x1="157" y1="308.12" x2="157" y2="310.62" stroke="#333" stroke-width="0.6"/>
<circle cx="150.03" cy="309.37" r="1.45" fill="#e01b1b"/>
<line x1="143.2" y1="315.15" x2="162.17" y2="315.15" stroke="#6a6a6a" stroke-width="0.55" stroke-dasharray="1.6,1"/>
<line x1="143.2" y1="313.9" x2="143.2" y2="316.4" stroke="#333" stroke-width="0.6"/>
<line x1="162.17" y1="313.9" x2="162.17" y2="316.4" stroke="#333" stroke-width="0.6"/>
<circle cx="152.89" cy="315.15" r="1.45" fill="#e01b1b"/>
<line x1="142.4" y1="320.93" x2="175.93" y2="320.93" stroke="#6a6a6a" stroke-width="0.55" stroke-dasharray="1.6,1"/>
<line x1="142.4" y1="319.68" x2="142.4" y2="322.18" stroke="#333" stroke-width="0.6"/>
<line x1="175.93" y1="319.68" x2="175.93" y2="322.18" stroke="#333" stroke-width="0.6"/>
<circle cx="159.62" cy="320.93" r="1.45" fill="#e01b1b"/>
<line x1="142.4" y1="326.71" x2="151.47" y2="326.71" stroke="#6a6a6a" stroke-width="0.55" stroke-dasharray="1.6,1"/>
<line x1="142.4" y1="325.46" x2="142.4" y2="327.96" stroke="#333" stroke-width="0.6"/>
<line x1="151.47" y1="325.46" x2="151.47" y2="327.96" stroke="#333" stroke-width="0.6"/>
<circle cx="147.07" cy="326.71" r="1.45" fill="#e01b1b"/>
<line x1="142.4" y1="332.49" x2="157.66" y2="332.49" stroke="#6a6a6a" stroke-width="0.55" stroke-dasharray="1.6,1"/>
<line x1="142.4" y1="331.24" x2="142.4" y2="333.74" stroke="#333" stroke-width="0.6"/>
<line x1="157.66" y1="331.24" x2="157.66" y2="333.74" stroke="#333" stroke-width="0.6"/>
<circle cx="150.03" cy="332.49" r="1.45" fill="#e01b1b"/>
<line x1="142.4" y1="338.27" x2="164.02" y2="338.27" stroke="#6a6a6a" stroke-width="0.55" stroke-dasharray="1.6,1"/>
<line x1="142.4" y1="337.02" x2="142.4" y2="339.52" stroke="#333" stroke-width="0.6"/>
<line x1="164.02" y1="337.02" x2="164.02" y2="339.52" stroke="#333" stroke-width="0.6"/>
<circle cx="152.89" cy="338.27" r="1.45" fill="#e01b1b"/>
<line x1="141.6" y1="344.05" x2="153.59" y2="344.05" stroke="#6a6a6a" stroke-width="0.55" stroke-dasharray="1.6,1"/>
<line x1="141.6" y1="342.8" x2="141.6" y2="345.3" stroke="#333" stroke-width="0.6"/>
<line x1="153.59" y1="342.8" x2="153.59" y2="345.3" stroke="#333" stroke-width="0.6"/>
<circle cx="147.82" cy="344.05" r="1.45" fill="#e01b1b"/>
<line x1="141.6" y1="349.83" x2="150.76" y2="349.83" stroke="#6a6a6a" stroke-width="0.55" stroke-dasharray="1.6,1"/>
<line x1="141.6" y1="348.58" x2="141.6" y2="351.08" stroke="#333" stroke-width="0.6"/>
<line x1="150.76" y1="348.58" x2="150.76" y2="351.08" stroke="#333" stroke-width="0.6"/>
<circle cx="146.31" cy="349.83" r="1.45" fill="#e01b1b"/>
<line x1="139.96" y1="355.61" x2="164.63" y2="355.61" stroke="#6a6a6a" stroke-width="0.55" stroke-dasharray="1.6,1"/>
<line x1="139.96" y1="354.36" x2="139.96" y2="356.86" stroke="#333" stroke-width="0.6"/>
<line x1="164.63" y1="354.36" x2="164.63" y2="356.86" stroke="#333" stroke-width="0.6"/>
<circle cx="152.19" cy="355.61" r="1.45" fill="#e01b1b"/>
<line x1="137.45" y1="361.39" x2="181.52" y2="361.39" stroke="#6a6a6a" stroke-width="0.55" stroke-dasharray="1.6,1"/>
<line x1="137.45" y1="360.14" x2="137.45" y2="362.64" stroke="#333" stroke-width="0.6"/>
<line x1="181.52" y1="360.14" x2="181.52" y2="362.64" stroke="#333" stroke-width="0.6"/>
<circle cx="159.62" cy="361.39" r="1.45" fill="#e01b1b"/>
<line x1="141.6" y1="367.17" x2="147.82" y2="367.17" stroke="#6a6a6a" stroke-width="0.55" stroke-dasharray="1.6,1"/>
<line x1="141.6" y1="365.92" x2="141.6" y2="368.42" stroke="#333" stroke-width="0.6"/>
<line x1="147.82" y1="365.92" x2="147.82" y2="368.42" stroke="#333" stroke-width="0.6"/>
<circle cx="144.77" cy="367.17" r="1.45" fill="#e01b1b"/>
<line x1="140.78" y1="372.95" x2="156.33" y2="372.95" stroke="#6a6a6a" stroke-width="0.55" stroke-dasharray="1.6,1"/>
<line x1="140.78" y1="371.7" x2="140.78" y2="374.2" stroke="#333" stroke-width="0.6"/>
<line x1="156.33" y1="371.7" x2="156.33" y2="374.2" stroke="#333" stroke-width="0.6"/>
<circle cx="148.56" cy="372.95" r="1.45" fill="#e01b1b"/>
<line x1="140.78" y1="378.73" x2="150.03" y2="378.73" stroke="#6a6a6a" stroke-width="0.55" stroke-dasharray="1.6,1"/>
<line x1="140.78" y1="377.48" x2="140.78" y2="379.98" stroke="#333" stroke-width="0.6"/>
<line x1="150.03" y1="377.48" x2="150.03" y2="379.98" stroke="#333" stroke-width="0.6"/>
<circle cx="145.54" cy="378.73" r="1.45" fill="#e01b1b"/>
<line x1="141.6" y1="384.51" x2="146.31" y2="384.51" stroke="#6a6a6a" stroke-width="0.55" stroke-dasharray="1.6,1"/>
<line x1="141.6" y1="383.26" x2="141.6" y2="385.76" stroke="#333" stroke-width="0.6"/>
<line x1="146.31" y1="383.26" x2="146.31" y2="385.76" stroke="#333" stroke-width="0.6"/>
<circle cx="143.99" cy="384.51" r="1.45" fill="#e01b1b"/>
<line x1="141.6" y1="390.29" x2="146.31" y2="390.29" stroke="#6a6a6a" stroke-width="0.55" stroke-dasharray="1.6,1"/>
<line x1="141.6" y1="389.04" x2="141.6" y2="391.54" stroke="#333" stroke-width="0.6"/>
<line x1="146.31" y1="389.04" x2="146.31" y2="391.54" stroke="#333" stroke-width="0.6"/>
<circle cx="143.99" cy="390.29" r="1.45" fill="#e01b1b"/>
<line x1="139.96" y1="396.07" x2="151.47" y2="396.07" stroke="#6a6a6a" stroke-width="0.55" stroke-dasharray="1.6,1"/>
<line x1="139.96" y1="394.82" x2="139.96" y2="397.32" stroke="#333" stroke-width="0.6"/>
<line x1="151.47" y1="394.82" x2="151.47" y2="397.32" stroke="#333" stroke-width="0.6"/>
<circle cx="145.54" cy="396.07" r="1.45" fill="#e01b1b"/>
<line x1="136.59" y1="401.85" x2="155.65" y2="401.85" stroke="#6a6a6a" stroke-width="0.55" stroke-dasharray="1.6,1"/>
<line x1="136.59" y1="400.6" x2="136.59" y2="403.1" stroke="#333" stroke-width="0.6"/>
<line x1="155.65" y1="400.6" x2="155.65" y2="403.1" stroke="#333" stroke-width="0.6"/>
<circle cx="146.31" cy="401.85" r="1.45" fill="#e01b1b"/>
<line x1="138.29" y1="407.63" x2="151.47" y2="407.63" stroke="#6a6a6a" stroke-width="0.55" stroke-dasharray="1.6,1"/>
<line x1="138.29" y1="406.38" x2="138.29" y2="408.88" stroke="#333" stroke-width="0.6"/>
<line x1="151.47" y1="406.38" x2="151.47" y2="408.88" stroke="#333" stroke-width="0.6"/>
<circle cx="144.77" cy="407.63" r="1.45" fill="#e01b1b"/>
<line x1="136.59" y1="413.41" x2="152.19" y2="413.41" stroke="#6a6a6a" stroke-width="0.55" stroke-dasharray="1.6,1"/>
<line x1="136.59" y1="412.16" x2="136.59" y2="414.66" stroke="#333" stroke-width="0.6"/>
<line x1="152.19" y1="412.16" x2="152.19" y2="414.66" stroke="#333" stroke-width="0.6"/>
<circle cx="144.77" cy="413.41" r="1.45" fill="#e01b1b"/>
<line x1="134.85" y1="419.19" x2="152.89" y2="419.19" stroke="#6a6a6a" stroke-width="0.55" stroke-dasharray="1.6,1"/>
<line x1="134.85" y1="417.94" x2="134.85" y2="420.44" stroke="#333" stroke-width="0.6"/>
<line x1="152.89" y1="417.94" x2="152.89" y2="420.44" stroke="#333" stroke-width="0.6"/>
<circle cx="143.99" cy="419.19" r="1.45" fill="#e01b1b"/>
<line x1="98.78" y1="424.97" x2="131.25" y2="424.97" stroke="#6a6a6a" stroke-width="0.55" stroke-dasharray="1.6,1"/>
<line x1="98.78" y1="423.72" x2="98.78" y2="426.22" stroke="#333" stroke-width="0.6"/>
<line x1="131.25" y1="423.72" x2="131.25" y2="426.22" stroke="#333" stroke-width="0.6"/>
<circle cx="114.98" cy="424.97" r="1.45" fill="#e01b1b"/>
<line x1="132.16" y1="430.75" x2="143.99" y2="430.75" stroke="#6a6a6a" stroke-width="0.55" stroke-dasharray="1.6,1"/>
<line x1="132.16" y1="429.5" x2="132.16" y2="432" stroke="#333" stroke-width="0.6"/>
<line x1="143.99" y1="429.5" x2="143.99" y2="432" stroke="#333" stroke-width="0.6"/>
<circle cx="138.29" cy="430.75" r="1.45" fill="#e01b1b"/>
<line x1="135.72" y1="436.53" x2="143.99" y2="436.53" stroke="#6a6a6a" stroke-width="0.55" stroke-dasharray="1.6,1"/>
<line x1="135.72" y1="435.28" x2="135.72" y2="437.78" stroke="#333" stroke-width="0.6"/>
<line x1="143.99" y1="435.28" x2="143.99" y2="437.78" stroke="#333" stroke-width="0.6"/>
<circle cx="139.96" cy="436.53" r="1.45" fill="#e01b1b"/>
<line x1="135.72" y1="442.31" x2="144.77" y2="442.31" stroke="#6a6a6a" stroke-width="0.55" stroke-dasharray="1.6,1"/>
<line x1="135.72" y1="441.06" x2="135.72" y2="443.56" stroke="#333" stroke-width="0.6"/>
<line x1="144.77" y1="441.06" x2="144.77" y2="443.56" stroke="#333" stroke-width="0.6"/>
<circle cx="139.96" cy="442.31" r="1.45" fill="#e01b1b"/>
<line x1="130.32" y1="448.09" x2="147.07" y2="448.09" stroke="#6a6a6a" stroke-width="0.55" stroke-dasharray="1.6,1"/>
<line x1="130.32" y1="446.84" x2="130.32" y2="449.34" stroke="#333" stroke-width="0.6"/>
<line x1="147.07" y1="446.84" x2="147.07" y2="449.34" stroke="#333" stroke-width="0.6"/>
<circle cx="138.29" cy="448.09" r="1.45" fill="#e01b1b"/>
<line x1="133.07" y1="453.87" x2="146.31" y2="453.87" stroke="#6a6a6a" stroke-width="0.55" stroke-dasharray="1.6,1"/>
<line x1="133.07" y1="452.62" x2="133.07" y2="455.12" stroke="#333" stroke-width="0.6"/>
<line x1="146.31" y1="452.62" x2="146.31" y2="455.12" stroke="#333" stroke-width="0.6"/>
<circle cx="139.96" cy="453.87" r="1.45" fill="#e01b1b"/>
<line x1="130.32" y1="459.65" x2="148.56" y2="459.65" stroke="#6a6a6a" stroke-width="0.55" stroke-dasharray="1.6,1"/>
<line x1="130.32" y1="458.4" x2="130.32" y2="460.9" stroke="#333" stroke-width="0.6"/>
<line x1="148.56" y1="458.4" x2="148.56" y2="460.9" stroke="#333" stroke-width="0.6"/>
<circle cx="139.96" cy="459.65" r="1.45" fill="#e01b1b"/>
<line x1="134.85" y1="465.43" x2="147.07" y2="465.43" stroke="#6a6a6a" stroke-width="0.55" stroke-dasharray="1.6,1"/>
<line x1="134.85" y1="464.18" x2="134.85" y2="466.68" stroke="#333" stroke-width="0.6"/>
<line x1="147.07" y1="464.18" x2="147.07" y2="466.68" stroke="#333" stroke-width="0.6"/>
<circle cx="140.78" cy="465.43" r="1.45" fill="#e01b1b"/>
<line x1="135.72" y1="471.21" x2="145.54" y2="471.21" stroke="#6a6a6a" stroke-width="0.55" stroke-dasharray="1.6,1"/>
<line x1="135.72" y1="469.96" x2="135.72" y2="472.46" stroke="#333" stroke-width="0.6"/>
<line x1="145.54" y1="469.96" x2="145.54" y2="472.46" stroke="#333" stroke-width="0.6"/>
<circle cx="140.78" cy="471.21" r="1.45" fill="#e01b1b"/>
<line x1="129.39" y1="476.99" x2="150.03" y2="476.99" stroke="#6a6a6a" stroke-width="0.55" stroke-dasharray="1.6,1"/>
<line x1="129.39" y1="475.74" x2="129.39" y2="478.24" stroke="#333" stroke-width="0.6"/>
<line x1="150.03" y1="475.74" x2="150.03" y2="478.24" stroke="#333" stroke-width="0.6"/>
<circle cx="139.96" cy="476.99" r="1.45" fill="#e01b1b"/>
<line x1="136.59" y1="482.77" x2="146.31" y2="482.77" stroke="#6a6a6a" stroke-width="0.55" stroke-dasharray="1.6,1"/>
<line x1="136.59" y1="481.52" x2="136.59" y2="484.02" stroke="#333" stroke-width="0.6"/>
<line x1="146.31" y1="481.52" x2="146.31" y2="484.02" stroke="#333" stroke-width="0.6"/>
<circle cx="141.6" cy="482.77" r="1.45" fill="#e01b1b"/>
<line x1="133.96" y1="488.55" x2="148.56" y2="488.55" stroke="#6a6a6a" stroke-width="0.55" stroke-dasharray="1.6,1"/>
<line x1="133.96" y1="487.3" x2="133.96" y2="489.8" stroke="#333" stroke-width="0.6"/>
<line x1="148.56" y1="487.3" x2="148.56" y2="489.8" stroke="#333" stroke-width="0.6"/>
<circle cx="141.6" cy="488.55" r="1.45" fill="#e01b1b"/>
<line x1="15.3" y1="491.44" x2="226.3" y2="491.44" stroke="#222" stroke-width="0.8"/>
<g font-family='"Liberation Serif", serif' font-size="3.3" fill="#333" text-anchor="middle">
<line x1="109.1" y1="491.44" x2="109.1" y2="492.74" stroke="#333" stroke-width="0.5"/>
<text x="109.1" y="496.94">−0.6</text>
<line x1="120.2" y1="491.44" x2="120.2" y2="492.74" stroke="#333" stroke-width="0.5"/>
<text x="120.2" y="496.94">−0.4</text>
<line x1="131.3" y1="491.44" x2="131.3" y2="492.74" stroke="#333" stroke-width="0.5"/>
<text x="131.3" y="496.94">−0.2</text>
<line x1="142.4" y1="491.44" x2="142.4" y2="492.74" stroke="#333" stroke-width="0.5"/>
<text x="142.4" y="496.94">0.0</text>
<line x1="153.5" y1="491.44" x2="153.5" y2="492.74" stroke="#333" stroke-width="0.5"/>
<text x="153.5" y="496.94">0.2</text>
<line x1="164.6" y1="491.44" x2="164.6" y2="492.74" stroke="#333" stroke-width="0.5"/>
<text x="164.6" y="496.94">0.4</text>
<line x1="175.7" y1="491.44" x2="175.7" y2="492.74" stroke="#333" stroke-width="0.5"/>
<text x="175.7" y="496.94">0.6</text>
<line x1="98.5" y1="491.44" x2="98.5" y2="492.74" stroke="#333" stroke-width="0.5"/>
</g>
<text x="140" y="501.64" font-family='"Liberation Serif", serif' font-size="4.9" fill="#222" text-anchor="middle">log2(Hazard Ratio(95%CI))</text>
<text x="252.8" y="8.0" font-family='"Liberation Serif", serif' font-weight="bold" font-size="10.5">B</text>
<text x="252.2" y="269.8" font-family='"Liberation Serif", serif' font-weight="bold" font-size="10.5">D</text>
<g font-family='"Liberation Sans", sans-serif' font-size="3.0" fill="#111" text-anchor="end">
<text x="276" y="15.25">1.0</text>
<line x1="276.3" y1="14.2" x2="277.5" y2="14.2" stroke="#555" stroke-width="0.3"/>
<text x="276" y="35.85">0.8</text>
<line x1="276.3" y1="34.8" x2="277.5" y2="34.8" stroke="#555" stroke-width="0.3"/>
<text x="276" y="56.45">0.5</text>
<line x1="276.3" y1="55.4" x2="277.5" y2="55.4" stroke="#555" stroke-width="0.3"/>
<text x="276" y="77.05">0.3</text>
<line x1="276.3" y1="76" x2="277.5" y2="76" stroke="#555" stroke-width="0.3"/>
<text x="276" y="97.65">0.0</text>
<line x1="276.3" y1="96.6" x2="277.5" y2="96.6" stroke="#555" stroke-width="0.3"/>
</g>
<text transform="translate(271.3,55.5) rotate(-90)" font-family='"Liberation Sans", sans-serif' font-size="3.4" fill="#333" text-anchor="middle">Survival probability</text>
<line x1="280.8" y1="55.3" x2="376.2" y2="55.3" stroke="#777" stroke-width="0.45" stroke-dasharray="1.6,0.9"/>
<line x1="328.5" y1="55.3" x2="328.5" y2="98.1" stroke="#777" stroke-width="0.45" stroke-dasharray="1.6,0.9"/>
<line x1="376.2" y1="55.3" x2="376.2" y2="98.1" stroke="#777" stroke-width="0.45" stroke-dasharray="1.6,0.9"/>
<polyline points="280.8,14.2 283.2,14.2 286,16.9 288.7,19.6 289.4,22.4 296.9,22.4 297.6,24.4 300.3,24.4 301,26.5 305.8,26.5 306.5,29.2 321.6,29.2 322.7,37.5 333.7,37.5 336.4,43.3 376.2,43.3" fill="none" stroke="#45b3d6" stroke-width="0.65" stroke-linejoin="round"/>
<polyline points="280.8,14.2 283.2,16.5 286,19.6 288.7,22.4 291.4,26.5 294.9,28.5 296.9,31.3 299,33.3 302.4,34 305.1,35.4 306.5,37.5 310.6,38.1 313.4,42.2 316.1,45 318.8,47 321.6,49.1 324.3,50.5 326.4,53.9 328.2,55.3 328.9,57.3 336.4,57.3 337.8,60 340.5,61.4 344,65.3 347.4,65.3 348.4,70.3 381.6,70.3" fill="none" stroke="#d92b2b" stroke-width="0.65" stroke-linejoin="round"/>
<polyline points="280.8,14.2 283.2,16.5 286,19.6 288.7,22.4 291.4,26.5 294.9,28.5 296.9,31.3 299,33.3 302.4,34 305.1,35.4" fill="none" stroke="#d92b2b" stroke-width="1.15" stroke-linejoin="round"/>
<line x1="291.86" y1="21.65" x2="291.86" y2="23.15" stroke="#45b3d6" stroke-width="0.5"/>
<line x1="296.02" y1="21.65" x2="296.02" y2="23.15" stroke="#45b3d6" stroke-width="0.5"/>
<line x1="310.85" y1="28.45" x2="310.85" y2="29.95" stroke="#45b3d6" stroke-width="0.5"/>
<line x1="320.08" y1="28.45" x2="320.08" y2="29.95" stroke="#45b3d6" stroke-width="0.5"/>
<line x1="326.4" y1="36.75" x2="326.4" y2="38.25" stroke="#45b3d6" stroke-width="0.5"/>
<line x1="331.41" y1="36.75" x2="331.41" y2="38.25" stroke="#45b3d6" stroke-width="0.5"/>
<line x1="340.76" y1="42.55" x2="340.76" y2="44.05" stroke="#45b3d6" stroke-width="0.5"/>
<line x1="346.04" y1="42.55" x2="346.04" y2="44.05" stroke="#45b3d6" stroke-width="0.5"/>
<line x1="354.86" y1="42.55" x2="354.86" y2="44.05" stroke="#45b3d6" stroke-width="0.5"/>
<line x1="360.28" y1="42.55" x2="360.28" y2="44.05" stroke="#45b3d6" stroke-width="0.5"/>
<line x1="367.26" y1="42.55" x2="367.26" y2="44.05" stroke="#45b3d6" stroke-width="0.5"/>
<line x1="334.06" y1="56.55" x2="334.06" y2="58.05" stroke="#d92b2b" stroke-width="0.5"/>
<line x1="354.03" y1="69.55" x2="354.03" y2="71.05" stroke="#d92b2b" stroke-width="0.5"/>
<line x1="361.22" y1="69.55" x2="361.22" y2="71.05" stroke="#d92b2b" stroke-width="0.5"/>
<line x1="371.51" y1="69.55" x2="371.51" y2="71.05" stroke="#d92b2b" stroke-width="0.5"/>
<line x1="376.95" y1="69.55" x2="376.95" y2="71.05" stroke="#d92b2b" stroke-width="0.5"/>
<text x="340.5" y="15.4" font-family='"Liberation Sans", sans-serif' font-weight="bold" font-size="2.7" fill="#111">SLAMF9 in COAD Exp</text>
<rect x="340.8" y="17" width="2.5" height="2.4" fill="#45b3d6"/>
<rect x="340.8" y="20.8" width="2.5" height="2.4" fill="#d92b2b"/>
<text x="344.3" y="19.3" font-family='"Liberation Sans", sans-serif' font-size="2.9" fill="#45b3d6">L</text>
<text x="344.3" y="23.1" font-family='"Liberation Sans", sans-serif' font-size="2.9" fill="#d92b2b">H</text>
<g font-family='"Liberation Sans", sans-serif' font-size="3.4" fill="#111">
<text x="279" y="94.8">p=0.02</text>
<text x="279" y="99.2">HR=1.98,95%CI(1.08,3.63)</text>
<text x="328.5" y="99.7" text-anchor="middle">2130</text>
<text x="376.2" y="99.7" text-anchor="middle">4270</text>
</g>
<rect x="277.5" y="9.8" width="106.2" height="105.8" fill="none" stroke="#b8b8b8" stroke-width="1.2"/>
<line x1="277.5" y1="101.2" x2="383.7" y2="101.2" stroke="#959595" stroke-width="1.2"/>
<line x1="277.5" y1="9.2" x2="277.5" y2="116.2" stroke="#959595" stroke-width="1.2"/>
<line x1="277.5" y1="115.6" x2="383.7" y2="115.6" stroke="#8a8a8a" stroke-width="1.0"/>
<line x1="277.5" y1="105.81" x2="383.7" y2="105.81" stroke="#ccc" stroke-width="0.35" stroke-dasharray="0.8,0.6"/>
<line x1="277.5" y1="110.85" x2="383.7" y2="110.85" stroke="#ccc" stroke-width="0.35" stroke-dasharray="0.8,0.6"/>
<text x="278.2" y="105.27" font-family='"Liberation Sans", sans-serif' font-size="3.3" fill="#222">Number at risk</text>
<text x="276.3" y="109.92" font-family='"Liberation Sans", sans-serif' font-size="2.8" fill="#45b3d6" text-anchor="end">L</text>
<text x="276.3" y="114.82" font-family='"Liberation Sans", sans-serif' font-size="2.8" fill="#d92b2b" text-anchor="end">H</text>
<text x="280.7" y="110.02" font-family='"Liberation Sans", sans-serif' font-size="2.8" fill="#45b3d6" text-anchor="middle">34</text>
<text x="280.7" y="114.92" font-family='"Liberation Sans", sans-serif' font-size="2.8" fill="#d92b2b" text-anchor="middle">204</text>
<line x1="280.7" y1="115.6" x2="280.7" y2="116.5" stroke="#444" stroke-width="0.35"/>
<text x="280.7" y="119.5" font-family='"Liberation Sans", sans-serif' font-size="2.8" fill="#222" text-anchor="middle">0</text>
<line x1="305.9" y1="101.2" x2="305.9" y2="115.6" stroke="#ddd" stroke-width="0.35"/>
<text x="305.9" y="110.02" font-family='"Liberation Sans", sans-serif' font-size="2.8" fill="#45b3d6" text-anchor="middle">25</text>
<text x="305.9" y="114.92" font-family='"Liberation Sans", sans-serif' font-size="2.8" fill="#d92b2b" text-anchor="middle">58</text>
<line x1="305.9" y1="115.6" x2="305.9" y2="116.5" stroke="#444" stroke-width="0.35"/>
<text x="305.9" y="119.5" font-family='"Liberation Sans", sans-serif' font-size="2.8" fill="#222" text-anchor="middle">1,520</text>
<line x1="331.1" y1="101.2" x2="331.1" y2="115.6" stroke="#ddd" stroke-width="0.35"/>
<text x="331.1" y="110.02" font-family='"Liberation Sans", sans-serif' font-size="2.8" fill="#45b3d6" text-anchor="middle">12</text>
<text x="331.1" y="114.92" font-family='"Liberation Sans", sans-serif' font-size="2.8" fill="#d92b2b" text-anchor="middle">17</text>
<line x1="331.1" y1="115.6" x2="331.1" y2="116.5" stroke="#444" stroke-width="0.35"/>
<text x="331.1" y="119.5" font-family='"Liberation Sans", sans-serif' font-size="2.8" fill="#222" text-anchor="middle">3,040</text>
<line x1="356.3" y1="101.2" x2="356.3" y2="115.6" stroke="#ddd" stroke-width="0.35"/>
<text x="356.3" y="110.02" font-family='"Liberation Sans", sans-serif' font-size="2.8" fill="#45b3d6" text-anchor="middle">6</text>
<text x="356.3" y="114.92" font-family='"Liberation Sans", sans-serif' font-size="2.8" fill="#d92b2b" text-anchor="middle">6</text>
<line x1="356.3" y1="115.6" x2="356.3" y2="116.5" stroke="#444" stroke-width="0.35"/>
<text x="356.3" y="119.5" font-family='"Liberation Sans", sans-serif' font-size="2.8" fill="#222" text-anchor="middle">4,560</text>
<line x1="381.5" y1="101.2" x2="381.5" y2="115.6" stroke="#ddd" stroke-width="0.35"/>
<text x="381.5" y="110.02" font-family='"Liberation Sans", sans-serif' font-size="2.8" fill="#45b3d6" text-anchor="middle">1</text>
<text x="381.5" y="114.92" font-family='"Liberation Sans", sans-serif' font-size="2.8" fill="#d92b2b" text-anchor="middle">1</text>
<line x1="381.5" y1="115.6" x2="381.5" y2="116.5" stroke="#444" stroke-width="0.35"/>
<text x="381.5" y="119.5" font-family='"Liberation Sans", sans-serif' font-size="2.8" fill="#222" text-anchor="middle">6,080</text>
<text x="330.6" y="123.3" font-family='"Liberation Sans", sans-serif' font-size="3.3" fill="#222" text-anchor="middle">Overall survival</text>
<g font-family='"Liberation Sans", sans-serif' font-size="3.0" fill="#111" text-anchor="end">
<text x="420.1" y="15.95">1.0</text>
<line x1="420.4" y1="14.9" x2="421.6" y2="14.9" stroke="#555" stroke-width="0.3"/>
<text x="420.1" y="35.9">0.8</text>
<line x1="420.4" y1="34.85" x2="421.6" y2="34.85" stroke="#555" stroke-width="0.3"/>
<text x="420.1" y="55.85">0.5</text>
<line x1="420.4" y1="54.8" x2="421.6" y2="54.8" stroke="#555" stroke-width="0.3"/>
<text x="420.1" y="75.8">0.3</text>
<line x1="420.4" y1="74.75" x2="421.6" y2="74.75" stroke="#555" stroke-width="0.3"/>
<text x="420.1" y="95.75">0.0</text>
<line x1="420.4" y1="94.7" x2="421.6" y2="94.7" stroke="#555" stroke-width="0.3"/>
</g>
<text transform="translate(415.4,54.8) rotate(-90)" font-family='"Liberation Sans", sans-serif' font-size="3.4" fill="#333" text-anchor="middle">Survival probability</text>
<line x1="424.2" y1="54.3" x2="525.3" y2="54.3" stroke="#777" stroke-width="0.45" stroke-dasharray="1.6,0.9"/>
<line x1="471.6" y1="54.3" x2="471.6" y2="96.2" stroke="#777" stroke-width="0.45" stroke-dasharray="1.6,0.9"/>
<line x1="525.3" y1="54.3" x2="525.3" y2="96.2" stroke="#777" stroke-width="0.45" stroke-dasharray="1.6,0.9"/>
<polyline points="424.2,14.9 428.2,17.9 432.9,21.4 437.6,23.8 442.3,26.1 447,28.5 451.6,30.8 456.3,34.3 458.7,37.9 461,39 465.7,40.2 468,44.9 482.2,45.4 484.5,47.3 489.2,47.7 491.1,50.8 525.8,50.8" fill="none" stroke="#45b3d6" stroke-width="0.65" stroke-linejoin="round"/>
<polyline points="424.2,14.9 427,19.1 430.5,23.8 434,27.3 437.6,30.4 441.1,32 442.3,35 447,35.5 451.6,36 456.3,37.9 458.7,39.7 461,44.9 463.4,48.4 468,49.6 470.4,50.8 471.6,55.5 474,61.3 483.3,61.3 484,67.2 486.9,67.2 495,73.1 496.2,73.8 531.2,73.8" fill="none" stroke="#d92b2b" stroke-width="0.65" stroke-linejoin="round"/>
<polyline points="424.2,14.9 428.2,17.9 432.9,21.4 437.6,23.8 442.3,26.1 447,28.5 451.6,30.8 456.3,34.3 458.7,37.9 461,39 465.7,40.2 468,44.9" fill="none" stroke="#45b3d6" stroke-width="1.1" stroke-linejoin="round"/>
<polyline points="424.2,14.9 427,19.1 430.5,23.8 434,27.3 437.6,30.4 441.1,32 442.3,35 447,35.5" fill="none" stroke="#d92b2b" stroke-width="1.0" stroke-linejoin="round"/>
<line x1="493.63" y1="50.05" x2="493.63" y2="51.55" stroke="#45b3d6" stroke-width="0.5"/>
<line x1="506.04" y1="50.05" x2="506.04" y2="51.55" stroke="#45b3d6" stroke-width="0.5"/>
<line x1="515.65" y1="50.05" x2="515.65" y2="51.55" stroke="#45b3d6" stroke-width="0.5"/>
<line x1="477.45" y1="60.55" x2="477.45" y2="62.05" stroke="#d92b2b" stroke-width="0.5"/>
<line x1="502.09" y1="73.05" x2="502.09" y2="74.55" stroke="#d92b2b" stroke-width="0.5"/>
<line x1="512.31" y1="73.05" x2="512.31" y2="74.55" stroke="#d92b2b" stroke-width="0.5"/>
<line x1="518.89" y1="73.05" x2="518.89" y2="74.55" stroke="#d92b2b" stroke-width="0.5"/>
<line x1="530.67" y1="73.05" x2="530.67" y2="74.55" stroke="#d92b2b" stroke-width="0.5"/>
<text x="488.7" y="15.4" font-family='"Liberation Sans", sans-serif' font-weight="bold" font-size="2.7" fill="#111">SLAMF9 in COADREAD Exp</text>
<rect x="489" y="17" width="2.5" height="2.4" fill="#45b3d6"/>
<rect x="489" y="20.8" width="2.5" height="2.4" fill="#d92b2b"/>
<text x="492.5" y="19.3" font-family='"Liberation Sans", sans-serif' font-size="2.9" fill="#45b3d6">L</text>
<text x="492.5" y="23.1" font-family='"Liberation Sans", sans-serif' font-size="2.9" fill="#d92b2b">H</text>
<g font-family='"Liberation Sans", sans-serif' font-size="3.4" fill="#111">
<text x="422.8" y="92.5">p=9.1e-3</text>
<text x="422.8" y="97.6">HR=1.75,95%CI(1.14,2.68)</text>
<text x="471.6" y="97.6" text-anchor="middle">2683</text>
<text x="525.3" y="97.6" text-anchor="middle">4270</text>
</g>
<rect x="421.6" y="10.2" width="111.9" height="105.1" fill="none" stroke="#b8b8b8" stroke-width="1.2"/>
<line x1="421.6" y1="99.4" x2="533.5" y2="99.4" stroke="#959595" stroke-width="1.2"/>
<line x1="421.6" y1="9.6" x2="421.6" y2="115.9" stroke="#959595" stroke-width="1.2"/>
<line x1="421.6" y1="115.3" x2="533.5" y2="115.3" stroke="#8a8a8a" stroke-width="1.0"/>
<line x1="421.6" y1="104.49" x2="533.5" y2="104.49" stroke="#ccc" stroke-width="0.35" stroke-dasharray="0.8,0.6"/>
<line x1="421.6" y1="110.05" x2="533.5" y2="110.05" stroke="#ccc" stroke-width="0.35" stroke-dasharray="0.8,0.6"/>
<text x="422.3" y="103.8" font-family='"Liberation Sans", sans-serif' font-size="3.3" fill="#222">Number at risk</text>
<text x="420.4" y="108.94" font-family='"Liberation Sans", sans-serif' font-size="2.8" fill="#45b3d6" text-anchor="end">L</text>
<text x="420.4" y="114.35" font-family='"Liberation Sans", sans-serif' font-size="2.8" fill="#d92b2b" text-anchor="end">H</text>
<text x="424.2" y="109.05" font-family='"Liberation Sans", sans-serif' font-size="2.8" fill="#45b3d6" text-anchor="middle">236</text>
<text x="424.2" y="114.45" font-family='"Liberation Sans", sans-serif' font-size="2.8" fill="#d92b2b" text-anchor="middle">132</text>
<line x1="424.2" y1="115.3" x2="424.2" y2="116.2" stroke="#444" stroke-width="0.35"/>
<text x="424.2" y="119.2" font-family='"Liberation Sans", sans-serif' font-size="2.8" fill="#222" text-anchor="middle">0</text>
<line x1="450.95" y1="99.4" x2="450.95" y2="115.3" stroke="#ddd" stroke-width="0.35"/>
<text x="450.95" y="109.05" font-family='"Liberation Sans", sans-serif' font-size="2.8" fill="#45b3d6" text-anchor="middle">68</text>
<text x="450.95" y="114.45" font-family='"Liberation Sans", sans-serif' font-size="2.8" fill="#d92b2b" text-anchor="middle">22</text>
<line x1="450.95" y1="115.3" x2="450.95" y2="116.2" stroke="#444" stroke-width="0.35"/>
<text x="450.95" y="119.2" font-family='"Liberation Sans", sans-serif' font-size="2.8" fill="#222" text-anchor="middle">1,125</text>
<line x1="477.7" y1="99.4" x2="477.7" y2="115.3" stroke="#ddd" stroke-width="0.35"/>
<text x="477.7" y="109.05" font-family='"Liberation Sans", sans-serif' font-size="2.8" fill="#45b3d6" text-anchor="middle">24</text>
<text x="477.7" y="114.45" font-family='"Liberation Sans", sans-serif' font-size="2.8" fill="#d92b2b" text-anchor="middle">6</text>
<line x1="477.7" y1="115.3" x2="477.7" y2="116.2" stroke="#444" stroke-width="0.35"/>
<text x="477.7" y="119.2" font-family='"Liberation Sans", sans-serif' font-size="2.8" fill="#222" text-anchor="middle">2,250</text>
<line x1="504.45" y1="99.4" x2="504.45" y2="115.3" stroke="#ddd" stroke-width="0.35"/>
<text x="504.45" y="109.05" font-family='"Liberation Sans", sans-serif' font-size="2.8" fill="#45b3d6" text-anchor="middle">10</text>
<text x="504.45" y="114.45" font-family='"Liberation Sans", sans-serif' font-size="2.8" fill="#d92b2b" text-anchor="middle">3</text>
<line x1="504.45" y1="115.3" x2="504.45" y2="116.2" stroke="#444" stroke-width="0.35"/>
<text x="504.45" y="119.2" font-family='"Liberation Sans", sans-serif' font-size="2.8" fill="#222" text-anchor="middle">3,375</text>
<line x1="531.2" y1="99.4" x2="531.2" y2="115.3" stroke="#ddd" stroke-width="0.35"/>
<text x="531.2" y="109.05" font-family='"Liberation Sans", sans-serif' font-size="2.8" fill="#45b3d6" text-anchor="middle">1</text>
<text x="531.2" y="114.45" font-family='"Liberation Sans", sans-serif' font-size="2.8" fill="#d92b2b" text-anchor="middle">1</text>
<line x1="531.2" y1="115.3" x2="531.2" y2="116.2" stroke="#444" stroke-width="0.35"/>
<text x="531.2" y="119.2" font-family='"Liberation Sans", sans-serif' font-size="2.8" fill="#222" text-anchor="middle">4,500</text>
<text x="477.55" y="123" font-family='"Liberation Sans", sans-serif' font-size="3.3" fill="#222" text-anchor="middle">Overall survival</text>
<g font-family='"Liberation Sans", sans-serif' font-size="3.0" fill="#111" text-anchor="end">
<text x="569.1" y="16.65">1.0</text>
<line x1="569.4" y1="15.6" x2="570.6" y2="15.6" stroke="#555" stroke-width="0.3"/>
<text x="569.1" y="36.48">0.8</text>
<line x1="569.4" y1="35.43" x2="570.6" y2="35.43" stroke="#555" stroke-width="0.3"/>
<text x="569.1" y="56.3">0.5</text>
<line x1="569.4" y1="55.25" x2="570.6" y2="55.25" stroke="#555" stroke-width="0.3"/>
<text x="569.1" y="76.12">0.3</text>
<line x1="569.4" y1="75.08" x2="570.6" y2="75.08" stroke="#555" stroke-width="0.3"/>
<text x="569.1" y="95.95">0.0</text>
<line x1="569.4" y1="94.9" x2="570.6" y2="94.9" stroke="#555" stroke-width="0.3"/>
</g>
<text transform="translate(564.4,54.6) rotate(-90)" font-family='"Liberation Sans", sans-serif' font-size="3.4" fill="#333" text-anchor="middle">Survival probability</text>
<line x1="573.8" y1="55" x2="619.6" y2="55" stroke="#777" stroke-width="0.45" stroke-dasharray="1.6,0.9"/>
<line x1="582.5" y1="55" x2="582.5" y2="96.4" stroke="#777" stroke-width="0.45" stroke-dasharray="1.6,0.9"/>
<line x1="619.6" y1="55" x2="619.6" y2="96.4" stroke="#777" stroke-width="0.45" stroke-dasharray="1.6,0.9"/>
<polyline points="573.8,15.6 578.5,20.3 583.2,26.1 587.9,29.6 592.6,34.3 597.3,39 602,42.6 606.6,46.1 611.3,49.6 616,52.7 619.6,55.5 625.4,60.2 632.5,63.7 637.2,65.6 641.9,69.6 648.9,78.9 653.6,81.3 658.3,83.6 679.4,83.6" fill="none" stroke="#45b3d6" stroke-width="0.75" stroke-linejoin="round"/>
<polyline points="573.8,15.6 575.7,21.4 577.3,28.5 579.6,37.9 581.3,49.6 582.7,57.8 585.5,64.9 590.2,71.9 594.9,75.4 597.3,77.8 599.6,83.6 602,85.5 614.9,87.6 618.4,89.5 623.1,90.7 632.5,93 640.7,94.9" fill="none" stroke="#d92b2b" stroke-width="0.65" stroke-linejoin="round"/>
<polyline points="573.8,15.6 578.5,20.3 583.2,26.1 587.9,29.6 592.6,34.3 597.3,39 602,42.6 606.6,46.1 611.3,49.6" fill="none" stroke="#45b3d6" stroke-width="1.4" stroke-linejoin="round"/>
<line x1="661.5" y1="82.85" x2="661.5" y2="84.35" stroke="#45b3d6" stroke-width="0.5"/>
<line x1="665.94" y1="82.85" x2="665.94" y2="84.35" stroke="#45b3d6" stroke-width="0.5"/>
<line x1="678.54" y1="82.85" x2="678.54" y2="84.35" stroke="#45b3d6" stroke-width="0.5"/>
<text x="636" y="15.4" font-family='"Liberation Sans", sans-serif' font-weight="bold" font-size="2.7" fill="#111">SLAMF9 in GBMLGG Exp</text>
<rect x="636.3" y="17" width="2.5" height="2.4" fill="#45b3d6"/>
<rect x="636.3" y="20.8" width="2.5" height="2.4" fill="#d92b2b"/>
<text x="639.8" y="19.3" font-family='"Liberation Sans", sans-serif' font-size="2.9" fill="#45b3d6">L</text>
<text x="639.8" y="23.1" font-family='"Liberation Sans", sans-serif' font-size="2.9" fill="#d92b2b">H</text>
<g font-family='"Liberation Sans", sans-serif' font-size="3.4" fill="#111">
<text x="571.2" y="89.9">p=7.2e-38</text>
<text x="571.2" y="93.9">HR=4.66,95%CI(3.57,6.08)</text>
<text x="582.5" y="98.3" text-anchor="middle">547</text>
<text x="619.6" y="98.3" text-anchor="middle">2772</text>
</g>
<rect x="570.6" y="10.3" width="111.6" height="105.3" fill="none" stroke="#b8b8b8" stroke-width="1.2"/>
<line x1="570.6" y1="98.9" x2="682.2" y2="98.9" stroke="#959595" stroke-width="1.2"/>
<line x1="570.6" y1="9.7" x2="570.6" y2="116.2" stroke="#959595" stroke-width="1.2"/>
<line x1="570.6" y1="115.6" x2="682.2" y2="115.6" stroke="#8a8a8a" stroke-width="1.0"/>
<line x1="570.6" y1="104.24" x2="682.2" y2="104.24" stroke="#ccc" stroke-width="0.35" stroke-dasharray="0.8,0.6"/>
<line x1="570.6" y1="110.09" x2="682.2" y2="110.09" stroke="#ccc" stroke-width="0.35" stroke-dasharray="0.8,0.6"/>
<text x="571.3" y="103.47" font-family='"Liberation Sans", sans-serif' font-size="3.3" fill="#222">Number at risk</text>
<text x="569.4" y="108.89" font-family='"Liberation Sans", sans-serif' font-size="2.8" fill="#45b3d6" text-anchor="end">L</text>
<text x="569.4" y="114.56" font-family='"Liberation Sans", sans-serif' font-size="2.8" fill="#d92b2b" text-anchor="end">H</text>
<text x="573.8" y="108.99" font-family='"Liberation Sans", sans-serif' font-size="2.8" fill="#45b3d6" text-anchor="middle">475</text>
<text x="573.8" y="114.66" font-family='"Liberation Sans", sans-serif' font-size="2.8" fill="#d92b2b" text-anchor="middle">194</text>
<line x1="573.8" y1="115.6" x2="573.8" y2="116.5" stroke="#444" stroke-width="0.35"/>
<text x="573.8" y="119.5" font-family='"Liberation Sans", sans-serif' font-size="2.8" fill="#222" text-anchor="middle">0</text>
<line x1="600.2" y1="98.9" x2="600.2" y2="115.6" stroke="#ddd" stroke-width="0.35"/>
<text x="600.2" y="108.99" font-family='"Liberation Sans", sans-serif' font-size="2.8" fill="#45b3d6" text-anchor="middle">68</text>
<text x="600.2" y="114.66" font-family='"Liberation Sans", sans-serif' font-size="2.8" fill="#d92b2b" text-anchor="middle">7</text>
<line x1="600.2" y1="115.6" x2="600.2" y2="116.5" stroke="#444" stroke-width="0.35"/>
<text x="600.2" y="119.5" font-family='"Liberation Sans", sans-serif' font-size="2.8" fill="#222" text-anchor="middle">1,605</text>
<line x1="626.6" y1="98.9" x2="626.6" y2="115.6" stroke="#ddd" stroke-width="0.35"/>
<text x="626.6" y="108.99" font-family='"Liberation Sans", sans-serif' font-size="2.8" fill="#45b3d6" text-anchor="middle">29</text>
<text x="626.6" y="114.66" font-family='"Liberation Sans", sans-serif' font-size="2.8" fill="#d92b2b" text-anchor="middle">1</text>
<line x1="626.6" y1="115.6" x2="626.6" y2="116.5" stroke="#444" stroke-width="0.35"/>
<text x="626.6" y="119.5" font-family='"Liberation Sans", sans-serif' font-size="2.8" fill="#222" text-anchor="middle">3,210</text>
<line x1="653" y1="98.9" x2="653" y2="115.6" stroke="#ddd" stroke-width="0.35"/>
<text x="653" y="108.99" font-family='"Liberation Sans", sans-serif' font-size="2.8" fill="#45b3d6" text-anchor="middle">4</text>
<text x="653" y="114.66" font-family='"Liberation Sans", sans-serif' font-size="2.8" fill="#d92b2b" text-anchor="middle">1</text>
<line x1="653" y1="115.6" x2="653" y2="116.5" stroke="#444" stroke-width="0.35"/>
<text x="653" y="119.5" font-family='"Liberation Sans", sans-serif' font-size="2.8" fill="#222" text-anchor="middle">4,815</text>
<line x1="679.4" y1="98.9" x2="679.4" y2="115.6" stroke="#ddd" stroke-width="0.35"/>
<text x="679.4" y="108.99" font-family='"Liberation Sans", sans-serif' font-size="2.8" fill="#45b3d6" text-anchor="middle">1</text>
<text x="679.4" y="114.66" font-family='"Liberation Sans", sans-serif' font-size="2.8" fill="#d92b2b" text-anchor="middle">1</text>
<line x1="679.4" y1="115.6" x2="679.4" y2="116.5" stroke="#444" stroke-width="0.35"/>
<text x="679.4" y="119.5" font-family='"Liberation Sans", sans-serif' font-size="2.8" fill="#222" text-anchor="middle">6,420</text>
<text x="626.4" y="123.3" font-family='"Liberation Sans", sans-serif' font-size="3.3" fill="#222" text-anchor="middle">Overall survival</text>
<g font-family='"Liberation Sans", sans-serif' font-size="3.0" fill="#111" text-anchor="end">
<text x="275.8" y="140.95">1.0</text>
<line x1="276.1" y1="139.9" x2="277.3" y2="139.9" stroke="#555" stroke-width="0.3"/>
<text x="275.8" y="159.88">0.8</text>
<line x1="276.1" y1="158.82" x2="277.3" y2="158.82" stroke="#555" stroke-width="0.3"/>
<text x="275.8" y="178.8">0.5</text>
<line x1="276.1" y1="177.75" x2="277.3" y2="177.75" stroke="#555" stroke-width="0.3"/>
<text x="275.8" y="197.73">0.3</text>
<line x1="276.1" y1="196.68" x2="277.3" y2="196.68" stroke="#555" stroke-width="0.3"/>
<text x="275.8" y="216.65">0.0</text>
<line x1="276.1" y1="215.6" x2="277.3" y2="215.6" stroke="#555" stroke-width="0.3"/>
</g>
<text transform="translate(271.1,178.1) rotate(-90)" font-family='"Liberation Sans", sans-serif' font-size="3.4" fill="#333" text-anchor="middle">Survival probability</text>
<line x1="280.3" y1="177.8" x2="380.4" y2="177.8" stroke="#777" stroke-width="0.45" stroke-dasharray="1.6,0.9"/>
<line x1="308.4" y1="177.8" x2="308.4" y2="217.1" stroke="#777" stroke-width="0.45" stroke-dasharray="1.6,0.9"/>
<line x1="380.4" y1="177.8" x2="380.4" y2="217.1" stroke="#777" stroke-width="0.45" stroke-dasharray="1.6,0.9"/>
<polyline points="280.3,139.9 290,139.9 290.8,141.5 292.6,146.1 305.8,146.1 306.7,152.2 314.6,152.2 318.1,159.8 330.4,159.8 331.7,166.3 380.6,166.3" fill="none" stroke="#45b3d6" stroke-width="0.65" stroke-linejoin="round"/>
<polyline points="280.3,139.9 282.9,143.4 285.6,147.8 288.2,150.5 290,156.6 291.7,162.8 293.5,169.8 297,171.6 301.4,173.9 304.9,176 308.4,177.4 310.2,179.5 313.7,181.6 317.2,183.4 325.2,183.4 325.7,188.3 331.3,188.3 332.2,195 381.5,195" fill="none" stroke="#d92b2b" stroke-width="0.65" stroke-linejoin="round"/>
<line x1="285.12" y1="139.15" x2="285.12" y2="140.65" stroke="#45b3d6" stroke-width="0.5"/>
<line x1="294.76" y1="145.35" x2="294.76" y2="146.85" stroke="#45b3d6" stroke-width="0.5"/>
<line x1="312.69" y1="151.45" x2="312.69" y2="152.95" stroke="#45b3d6" stroke-width="0.5"/>
<line x1="320.34" y1="159.05" x2="320.34" y2="160.55" stroke="#45b3d6" stroke-width="0.5"/>
<line x1="328.18" y1="159.05" x2="328.18" y2="160.55" stroke="#45b3d6" stroke-width="0.5"/>
<line x1="335.26" y1="165.55" x2="335.26" y2="167.05" stroke="#45b3d6" stroke-width="0.5"/>
<line x1="339.33" y1="165.55" x2="339.33" y2="167.05" stroke="#45b3d6" stroke-width="0.5"/>
<line x1="349.05" y1="165.55" x2="349.05" y2="167.05" stroke="#45b3d6" stroke-width="0.5"/>
<line x1="362.03" y1="165.55" x2="362.03" y2="167.05" stroke="#45b3d6" stroke-width="0.5"/>
<line x1="372.06" y1="165.55" x2="372.06" y2="167.05" stroke="#45b3d6" stroke-width="0.5"/>
<line x1="320.03" y1="182.65" x2="320.03" y2="184.15" stroke="#d92b2b" stroke-width="0.5"/>
<line x1="328.5" y1="187.55" x2="328.5" y2="189.05" stroke="#d92b2b" stroke-width="0.5"/>
<line x1="337.72" y1="194.25" x2="337.72" y2="195.75" stroke="#d92b2b" stroke-width="0.5"/>
<line x1="349.52" y1="194.25" x2="349.52" y2="195.75" stroke="#d92b2b" stroke-width="0.5"/>
<line x1="359.95" y1="194.25" x2="359.95" y2="195.75" stroke="#d92b2b" stroke-width="0.5"/>
<line x1="365.65" y1="194.25" x2="365.65" y2="195.75" stroke="#d92b2b" stroke-width="0.5"/>
<line x1="372.43" y1="194.25" x2="372.43" y2="195.75" stroke="#d92b2b" stroke-width="0.5"/>
<line x1="378.95" y1="194.25" x2="378.95" y2="195.75" stroke="#d92b2b" stroke-width="0.5"/>
<text x="340.1" y="140.3" font-family='"Liberation Sans", sans-serif' font-weight="bold" font-size="2.7" fill="#111">SLAMF9 in ACC Exp</text>
<rect x="340.4" y="141.9" width="2.5" height="2.4" fill="#45b3d6"/>
<rect x="340.4" y="145.7" width="2.5" height="2.4" fill="#d92b2b"/>
<text x="343.9" y="144.2" font-family='"Liberation Sans", sans-serif' font-size="2.9" fill="#45b3d6">L</text>
<text x="343.9" y="148" font-family='"Liberation Sans", sans-serif' font-size="2.9" fill="#d92b2b">H</text>
<g font-family='"Liberation Sans", sans-serif' font-size="3.4" fill="#111">
<text x="279" y="210.3">p=5.5e-4</text>
<text x="279" y="214.8">HR=3.73,95%CI(1.67,8.32)</text>
<text x="308.4" y="218.7" text-anchor="middle">1260</text>
<text x="381" y="218.7" text-anchor="middle">4628</text>
</g>
<rect x="277.3" y="135.5" width="106.3" height="99.3" fill="none" stroke="#b8b8b8" stroke-width="1.2"/>
<line x1="277.3" y1="220.7" x2="383.6" y2="220.7" stroke="#959595" stroke-width="1.2"/>
<line x1="277.3" y1="134.9" x2="277.3" y2="235.4" stroke="#959595" stroke-width="1.2"/>
<line x1="277.3" y1="234.8" x2="383.6" y2="234.8" stroke="#8a8a8a" stroke-width="1.0"/>
<line x1="277.3" y1="225.21" x2="383.6" y2="225.21" stroke="#ccc" stroke-width="0.35" stroke-dasharray="0.8,0.6"/>
<line x1="277.3" y1="230.15" x2="383.6" y2="230.15" stroke="#ccc" stroke-width="0.35" stroke-dasharray="0.8,0.6"/>
<text x="278" y="224.7" font-family='"Liberation Sans", sans-serif' font-size="3.3" fill="#222">Number at risk</text>
<text x="276.1" y="229.26" font-family='"Liberation Sans", sans-serif' font-size="2.8" fill="#45b3d6" text-anchor="end">L</text>
<text x="276.1" y="234.05" font-family='"Liberation Sans", sans-serif' font-size="2.8" fill="#d92b2b" text-anchor="end">H</text>
<text x="280.3" y="229.36" font-family='"Liberation Sans", sans-serif' font-size="2.8" fill="#45b3d6" text-anchor="middle">20</text>
<text x="280.3" y="234.15" font-family='"Liberation Sans", sans-serif' font-size="2.8" fill="#d92b2b" text-anchor="middle">29</text>
<line x1="280.3" y1="234.8" x2="280.3" y2="235.7" stroke="#444" stroke-width="0.35"/>
<text x="280.3" y="238.7" font-family='"Liberation Sans", sans-serif' font-size="2.8" fill="#222" text-anchor="middle">0</text>
<line x1="305.38" y1="220.7" x2="305.38" y2="234.8" stroke="#ddd" stroke-width="0.35"/>
<text x="305.38" y="229.36" font-family='"Liberation Sans", sans-serif' font-size="2.8" fill="#45b3d6" text-anchor="middle">17</text>
<text x="305.38" y="234.15" font-family='"Liberation Sans", sans-serif' font-size="2.8" fill="#d92b2b" text-anchor="middle">14</text>
<line x1="305.38" y1="234.8" x2="305.38" y2="235.7" stroke="#444" stroke-width="0.35"/>
<text x="305.38" y="238.7" font-family='"Liberation Sans", sans-serif' font-size="2.8" fill="#222" text-anchor="middle">1,157</text>
<line x1="330.45" y1="220.7" x2="330.45" y2="234.8" stroke="#ddd" stroke-width="0.35"/>
<text x="330.45" y="229.36" font-family='"Liberation Sans", sans-serif' font-size="2.8" fill="#45b3d6" text-anchor="middle">9</text>
<text x="330.45" y="234.15" font-family='"Liberation Sans", sans-serif' font-size="2.8" fill="#d92b2b" text-anchor="middle">6</text>
<line x1="330.45" y1="234.8" x2="330.45" y2="235.7" stroke="#444" stroke-width="0.35"/>
<text x="330.45" y="238.7" font-family='"Liberation Sans", sans-serif' font-size="2.8" fill="#222" text-anchor="middle">2,314</text>
<line x1="355.53" y1="220.7" x2="355.53" y2="234.8" stroke="#ddd" stroke-width="0.35"/>
<text x="355.53" y="229.36" font-family='"Liberation Sans", sans-serif' font-size="2.8" fill="#45b3d6" text-anchor="middle">3</text>
<text x="355.53" y="234.15" font-family='"Liberation Sans", sans-serif' font-size="2.8" fill="#d92b2b" text-anchor="middle">2</text>
<line x1="355.53" y1="234.8" x2="355.53" y2="235.7" stroke="#444" stroke-width="0.35"/>
<text x="355.53" y="238.7" font-family='"Liberation Sans", sans-serif' font-size="2.8" fill="#222" text-anchor="middle">3,471</text>
<line x1="380.6" y1="220.7" x2="380.6" y2="234.8" stroke="#ddd" stroke-width="0.35"/>
<text x="380.6" y="229.36" font-family='"Liberation Sans", sans-serif' font-size="2.8" fill="#45b3d6" text-anchor="middle">1</text>
<text x="380.6" y="234.15" font-family='"Liberation Sans", sans-serif' font-size="2.8" fill="#d92b2b" text-anchor="middle">1</text>
<line x1="380.6" y1="234.8" x2="380.6" y2="235.7" stroke="#444" stroke-width="0.35"/>
<text x="380.6" y="238.7" font-family='"Liberation Sans", sans-serif' font-size="2.8" fill="#222" text-anchor="middle">4,628</text>
<text x="330.45" y="242.5" font-family='"Liberation Sans", sans-serif' font-size="3.3" fill="#222" text-anchor="middle">Overall survival</text>
<g font-family='"Liberation Sans", sans-serif' font-size="3.0" fill="#111" text-anchor="end">
<text x="419.8" y="141.35">1.0</text>
<line x1="420.1" y1="140.3" x2="421.3" y2="140.3" stroke="#555" stroke-width="0.3"/>
<text x="419.8" y="161.28">0.8</text>
<line x1="420.1" y1="160.23" x2="421.3" y2="160.23" stroke="#555" stroke-width="0.3"/>
<text x="419.8" y="181.2">0.5</text>
<line x1="420.1" y1="180.15" x2="421.3" y2="180.15" stroke="#555" stroke-width="0.3"/>
<text x="419.8" y="201.12">0.3</text>
<line x1="420.1" y1="200.07" x2="421.3" y2="200.07" stroke="#555" stroke-width="0.3"/>
<text x="419.8" y="221.05">0.0</text>
<line x1="420.1" y1="220" x2="421.3" y2="220" stroke="#555" stroke-width="0.3"/>
</g>
<text transform="translate(415.1,179.85) rotate(-90)" font-family='"Liberation Sans", sans-serif' font-size="3.4" fill="#333" text-anchor="middle">Survival probability</text>
<line x1="424.6" y1="180.2" x2="448" y2="180.2" stroke="#777" stroke-width="0.45" stroke-dasharray="1.6,0.9"/>
<line x1="441.5" y1="180.2" x2="441.5" y2="221.5" stroke="#777" stroke-width="0.45" stroke-dasharray="1.6,0.9"/>
<line x1="448" y1="180.2" x2="448" y2="221.5" stroke="#777" stroke-width="0.45" stroke-dasharray="1.6,0.9"/>
<polyline points="424.6,140.3 429.2,146.7 433.8,153.2 438.4,160.5 442.1,167 445.8,171.6 447.6,178.9 449.4,181.7 451.3,186.3 456.8,186.6 462.3,187.2 464.2,191.8 469.7,191.8 472.4,194.6 474.3,197.3 530.4,197.3" fill="none" stroke="#45b3d6" stroke-width="0.75" stroke-linejoin="round"/>
<polyline points="424.6,140.3 427.4,146.7 430.1,155 432.9,159.6 435.6,165.1 438.4,171.6 441.2,178.9 443,184.4 446.7,190.5 453.1,190.9 455.9,192.7 458.6,195.5 462.3,197.9 462.7,201.4 478.9,201.4 496.4,210.6 527.6,210.6" fill="none" stroke="#d92b2b" stroke-width="0.75" stroke-linejoin="round"/>
<polyline points="424.6,140.3 429.2,146.7 433.8,153.2 438.4,160.5 442.1,167 445.8,171.6 447.6,178.9 449.4,181.7" fill="none" stroke="#45b3d6" stroke-width="1.1" stroke-linejoin="round"/>
<polyline points="424.6,140.3 427.4,146.7 430.1,155 432.9,159.6 435.6,165.1 438.4,171.6 441.2,178.9 443,184.4 446.7,190.5" fill="none" stroke="#d92b2b" stroke-width="1.1" stroke-linejoin="round"/>
<line x1="455.09" y1="185.55" x2="455.09" y2="187.05" stroke="#45b3d6" stroke-width="0.5"/>
<line x1="466.34" y1="191.05" x2="466.34" y2="192.55" stroke="#45b3d6" stroke-width="0.5"/>
<line x1="477.61" y1="196.55" x2="477.61" y2="198.05" stroke="#45b3d6" stroke-width="0.5"/>
<line x1="484.45" y1="196.55" x2="484.45" y2="198.05" stroke="#45b3d6" stroke-width="0.5"/>
<line x1="496.72" y1="196.55" x2="496.72" y2="198.05" stroke="#45b3d6" stroke-width="0.5"/>
<line x1="503.63" y1="196.55" x2="503.63" y2="198.05" stroke="#45b3d6" stroke-width="0.5"/>
<line x1="513.01" y1="196.55" x2="513.01" y2="198.05" stroke="#45b3d6" stroke-width="0.5"/>
<line x1="517.9" y1="196.55" x2="517.9" y2="198.05" stroke="#45b3d6" stroke-width="0.5"/>
<line x1="528" y1="196.55" x2="528" y2="198.05" stroke="#45b3d6" stroke-width="0.5"/>
<line x1="467.42" y1="200.65" x2="467.42" y2="202.15" stroke="#d92b2b" stroke-width="0.5"/>
<line x1="476.49" y1="200.65" x2="476.49" y2="202.15" stroke="#d92b2b" stroke-width="0.5"/>
<line x1="500.43" y1="209.85" x2="500.43" y2="211.35" stroke="#d92b2b" stroke-width="0.5"/>
<line x1="513" y1="209.85" x2="513" y2="211.35" stroke="#d92b2b" stroke-width="0.5"/>
<line x1="517.11" y1="209.85" x2="517.11" y2="211.35" stroke="#d92b2b" stroke-width="0.5"/>
<line x1="522.88" y1="209.85" x2="522.88" y2="211.35" stroke="#d92b2b" stroke-width="0.5"/>
<text x="487.2" y="140.2" font-family='"Liberation Sans", sans-serif' font-weight="bold" font-size="2.7" fill="#111">SLAMF9 in LUAD Exp</text>
<rect x="487.5" y="141.8" width="2.5" height="2.4" fill="#45b3d6"/>
<rect x="487.5" y="145.6" width="2.5" height="2.4" fill="#d92b2b"/>
<text x="491" y="144.1" font-family='"Liberation Sans", sans-serif' font-size="2.9" fill="#45b3d6">L</text>
<text x="491" y="147.9" font-family='"Liberation Sans", sans-serif' font-size="2.9" fill="#d92b2b">H</text>
<g font-family='"Liberation Sans", sans-serif' font-size="3.4" fill="#111">
<text x="423" y="214.5">p=4.5e-3</text>
<text x="423" y="218.7">HR=1.54,95%CI(1.14,2.07)</text>
<text x="441" y="222.8" text-anchor="middle">1143</text>
<text x="450" y="222.8" text-anchor="middle">1622</text>
</g>
<rect x="421.3" y="135.3" width="111.3" height="104.2" fill="none" stroke="#b8b8b8" stroke-width="1.2"/>
<line x1="421.3" y1="224.4" x2="532.6" y2="224.4" stroke="#959595" stroke-width="1.2"/>
<line x1="421.3" y1="134.7" x2="421.3" y2="240.1" stroke="#959595" stroke-width="1.2"/>
<line x1="421.3" y1="239.5" x2="532.6" y2="239.5" stroke="#8a8a8a" stroke-width="1.0"/>
<line x1="421.3" y1="229.23" x2="532.6" y2="229.23" stroke="#ccc" stroke-width="0.35" stroke-dasharray="0.8,0.6"/>
<line x1="421.3" y1="234.52" x2="532.6" y2="234.52" stroke="#ccc" stroke-width="0.35" stroke-dasharray="0.8,0.6"/>
<text x="422" y="228.62" font-family='"Liberation Sans", sans-serif' font-size="3.3" fill="#222">Number at risk</text>
<text x="420.1" y="233.51" font-family='"Liberation Sans", sans-serif' font-size="2.8" fill="#45b3d6" text-anchor="end">L</text>
<text x="420.1" y="238.64" font-family='"Liberation Sans", sans-serif' font-size="2.8" fill="#d92b2b" text-anchor="end">H</text>
<text x="424.6" y="233.61" font-family='"Liberation Sans", sans-serif' font-size="2.8" fill="#45b3d6" text-anchor="middle">324</text>
<text x="424.6" y="238.74" font-family='"Liberation Sans", sans-serif' font-size="2.8" fill="#d92b2b" text-anchor="middle">166</text>
<line x1="424.6" y1="239.5" x2="424.6" y2="240.4" stroke="#444" stroke-width="0.35"/>
<text x="424.6" y="243.4" font-family='"Liberation Sans", sans-serif' font-size="2.8" fill="#222" text-anchor="middle">0</text>
<line x1="451.05" y1="224.4" x2="451.05" y2="239.5" stroke="#ddd" stroke-width="0.35"/>
<text x="451.05" y="233.61" font-family='"Liberation Sans", sans-serif' font-size="2.8" fill="#45b3d6" text-anchor="middle">30</text>
<text x="451.05" y="238.74" font-family='"Liberation Sans", sans-serif' font-size="2.8" fill="#d92b2b" text-anchor="middle">17</text>
<line x1="451.05" y1="239.5" x2="451.05" y2="240.4" stroke="#444" stroke-width="0.35"/>
<text x="451.05" y="243.4" font-family='"Liberation Sans", sans-serif' font-size="2.8" fill="#222" text-anchor="middle">1,822</text>
<line x1="477.5" y1="224.4" x2="477.5" y2="239.5" stroke="#ddd" stroke-width="0.35"/>
<text x="477.5" y="233.61" font-family='"Liberation Sans", sans-serif' font-size="2.8" fill="#45b3d6" text-anchor="middle">6</text>
<text x="477.5" y="238.74" font-family='"Liberation Sans", sans-serif' font-size="2.8" fill="#d92b2b" text-anchor="middle">4</text>
<line x1="477.5" y1="239.5" x2="477.5" y2="240.4" stroke="#444" stroke-width="0.35"/>
<text x="477.5" y="243.4" font-family='"Liberation Sans", sans-serif' font-size="2.8" fill="#222" text-anchor="middle">3,644</text>
<line x1="503.95" y1="224.4" x2="503.95" y2="239.5" stroke="#ddd" stroke-width="0.35"/>
<text x="503.95" y="233.61" font-family='"Liberation Sans", sans-serif' font-size="2.8" fill="#45b3d6" text-anchor="middle">2</text>
<text x="503.95" y="238.74" font-family='"Liberation Sans", sans-serif' font-size="2.8" fill="#d92b2b" text-anchor="middle">1</text>
<line x1="503.95" y1="239.5" x2="503.95" y2="240.4" stroke="#444" stroke-width="0.35"/>
<text x="503.95" y="243.4" font-family='"Liberation Sans", sans-serif' font-size="2.8" fill="#222" text-anchor="middle">5,466</text>
<line x1="530.4" y1="224.4" x2="530.4" y2="239.5" stroke="#ddd" stroke-width="0.35"/>
<text x="530.4" y="233.61" font-family='"Liberation Sans", sans-serif' font-size="2.8" fill="#45b3d6" text-anchor="middle">1</text>
<text x="530.4" y="238.74" font-family='"Liberation Sans", sans-serif' font-size="2.8" fill="#d92b2b" text-anchor="middle">1</text>
<line x1="530.4" y1="239.5" x2="530.4" y2="240.4" stroke="#444" stroke-width="0.35"/>
<text x="530.4" y="243.4" font-family='"Liberation Sans", sans-serif' font-size="2.8" fill="#222" text-anchor="middle">7,288</text>
<text x="476.95" y="247.2" font-family='"Liberation Sans", sans-serif' font-size="3.3" fill="#222" text-anchor="middle">Overall survival</text>
<g font-family='"Liberation Sans", sans-serif' font-size="3.0" fill="#111" text-anchor="end">
<text x="569" y="140.75">1.0</text>
<line x1="569.3" y1="139.7" x2="570.5" y2="139.7" stroke="#555" stroke-width="0.3"/>
<text x="569" y="160.68">0.8</text>
<line x1="569.3" y1="159.62" x2="570.5" y2="159.62" stroke="#555" stroke-width="0.3"/>
<text x="569" y="180.6">0.5</text>
<line x1="569.3" y1="179.55" x2="570.5" y2="179.55" stroke="#555" stroke-width="0.3"/>
<text x="569" y="200.53">0.3</text>
<line x1="569.3" y1="199.47" x2="570.5" y2="199.47" stroke="#555" stroke-width="0.3"/>
<text x="569" y="220.45">0.0</text>
<line x1="569.3" y1="219.4" x2="570.5" y2="219.4" stroke="#555" stroke-width="0.3"/>
</g>
<text transform="translate(564.3,179.85) rotate(-90)" font-family='"Liberation Sans", sans-serif' font-size="3.4" fill="#333" text-anchor="middle">Survival probability</text>
<line x1="573.6" y1="179.5" x2="601.8" y2="179.5" stroke="#777" stroke-width="0.45" stroke-dasharray="1.6,0.9"/>
<line x1="591.4" y1="179.5" x2="591.4" y2="220.9" stroke="#777" stroke-width="0.45" stroke-dasharray="1.6,0.9"/>
<line x1="601.8" y1="179.5" x2="601.8" y2="220.9" stroke="#777" stroke-width="0.45" stroke-dasharray="1.6,0.9"/>
<polyline points="573.6,139.7 577.3,141.2 579.1,145.8 582.8,150.4 585.6,153.2 588.3,156.8 591.1,158.7 592.9,163.3 596.6,167.9 600.3,176.2 602.1,179.8 605.8,180.2 608.6,182 624.2,182 626,185.4 631.6,189.4 653.6,189.4 657.3,204.3 679.4,204.3" fill="none" stroke="#45b3d6" stroke-width="0.65" stroke-linejoin="round"/>
<polyline points="573.6,139.7 576.4,142.1 579.1,150.4 581.9,154.1 584.6,157.8 586.5,162.4 589.2,168.8 591.1,176.2 592.9,181.7 595.7,187.2 598.4,192.7 601.2,197.3 602.1,198.6 613.2,198.6 615,201.5 616.8,201.5 617.8,205.2 624.2,205.2 651.8,212.4 662.8,212.4" fill="none" stroke="#d92b2b" stroke-width="0.65" stroke-linejoin="round"/>
<line x1="611.82" y1="181.25" x2="611.82" y2="182.75" stroke="#45b3d6" stroke-width="0.5"/>
<line x1="617.93" y1="181.25" x2="617.93" y2="182.75" stroke="#45b3d6" stroke-width="0.5"/>
<line x1="637.19" y1="188.65" x2="637.19" y2="190.15" stroke="#45b3d6" stroke-width="0.5"/>
<line x1="650.06" y1="188.65" x2="650.06" y2="190.15" stroke="#45b3d6" stroke-width="0.5"/>
<line x1="661.17" y1="203.55" x2="661.17" y2="205.05" stroke="#45b3d6" stroke-width="0.5"/>
<line x1="667.22" y1="203.55" x2="667.22" y2="205.05" stroke="#45b3d6" stroke-width="0.5"/>
<line x1="676.8" y1="203.55" x2="676.8" y2="205.05" stroke="#45b3d6" stroke-width="0.5"/>
<line x1="604.15" y1="197.85" x2="604.15" y2="199.35" stroke="#d92b2b" stroke-width="0.5"/>
<line x1="609.18" y1="197.85" x2="609.18" y2="199.35" stroke="#d92b2b" stroke-width="0.5"/>
<line x1="622.05" y1="204.45" x2="622.05" y2="205.95" stroke="#d92b2b" stroke-width="0.5"/>
<line x1="656.13" y1="211.65" x2="656.13" y2="213.15" stroke="#d92b2b" stroke-width="0.5"/>
<line x1="661.67" y1="211.65" x2="661.67" y2="213.15" stroke="#d92b2b" stroke-width="0.5"/>
<text x="636.2" y="140.2" font-family='"Liberation Sans", sans-serif' font-weight="bold" font-size="2.7" fill="#111">SLAMF9 in PAAD Exp</text>
<rect x="636.5" y="141.8" width="2.5" height="2.4" fill="#45b3d6"/>
<rect x="636.5" y="145.6" width="2.5" height="2.4" fill="#d92b2b"/>
<text x="640" y="144.1" font-family='"Liberation Sans", sans-serif' font-size="2.9" fill="#45b3d6">L</text>
<text x="640" y="147.9" font-family='"Liberation Sans", sans-serif' font-size="2.9" fill="#d92b2b">H</text>
<g font-family='"Liberation Sans", sans-serif' font-size="3.4" fill="#111">
<text x="572.3" y="215.2">p=5.5e-4</text>
<text x="572.3" y="219.1">HR=1.99,95%CI(1.31,3.01)</text>
<text x="592.6" y="222.8" text-anchor="middle">473</text>
<text x="602.6" y="222.8" text-anchor="middle">729</text>
</g>
<rect x="570.5" y="135.3" width="111.1" height="104.5" fill="none" stroke="#b8b8b8" stroke-width="1.2"/>
<line x1="570.5" y1="224.4" x2="681.6" y2="224.4" stroke="#959595" stroke-width="1.2"/>
<line x1="570.5" y1="134.7" x2="570.5" y2="240.4" stroke="#959595" stroke-width="1.2"/>
<line x1="570.5" y1="239.8" x2="681.6" y2="239.8" stroke="#8a8a8a" stroke-width="1.0"/>
<line x1="570.5" y1="229.33" x2="681.6" y2="229.33" stroke="#ccc" stroke-width="0.35" stroke-dasharray="0.8,0.6"/>
<line x1="570.5" y1="234.72" x2="681.6" y2="234.72" stroke="#ccc" stroke-width="0.35" stroke-dasharray="0.8,0.6"/>
<text x="571.2" y="228.69" font-family='"Liberation Sans", sans-serif' font-size="3.3" fill="#222">Number at risk</text>
<text x="569.3" y="233.67" font-family='"Liberation Sans", sans-serif' font-size="2.8" fill="#45b3d6" text-anchor="end">L</text>
<text x="569.3" y="238.91" font-family='"Liberation Sans", sans-serif' font-size="2.8" fill="#d92b2b" text-anchor="end">H</text>
<text x="573.6" y="233.77" font-family='"Liberation Sans", sans-serif' font-size="2.8" fill="#45b3d6" text-anchor="middle">88</text>
<text x="573.6" y="239.01" font-family='"Liberation Sans", sans-serif' font-size="2.8" fill="#d92b2b" text-anchor="middle">84</text>
<line x1="573.6" y1="239.8" x2="573.6" y2="240.7" stroke="#444" stroke-width="0.35"/>
<text x="573.6" y="243.7" font-family='"Liberation Sans", sans-serif' font-size="2.8" fill="#222" text-anchor="middle">0</text>
<line x1="600.05" y1="224.4" x2="600.05" y2="239.8" stroke="#ddd" stroke-width="0.35"/>
<text x="600.05" y="233.77" font-family='"Liberation Sans", sans-serif' font-size="2.8" fill="#45b3d6" text-anchor="middle">29</text>
<text x="600.05" y="239.01" font-family='"Liberation Sans", sans-serif' font-size="2.8" fill="#d92b2b" text-anchor="middle">14</text>
<line x1="600.05" y1="239.8" x2="600.05" y2="240.7" stroke="#444" stroke-width="0.35"/>
<text x="600.05" y="243.7" font-family='"Liberation Sans", sans-serif' font-size="2.8" fill="#222" text-anchor="middle">690</text>
<line x1="626.5" y1="224.4" x2="626.5" y2="239.8" stroke="#ddd" stroke-width="0.35"/>
<text x="626.5" y="233.77" font-family='"Liberation Sans", sans-serif' font-size="2.8" fill="#45b3d6" text-anchor="middle">10</text>
<text x="626.5" y="239.01" font-family='"Liberation Sans", sans-serif' font-size="2.8" fill="#d92b2b" text-anchor="middle">1</text>
<line x1="626.5" y1="239.8" x2="626.5" y2="240.7" stroke="#444" stroke-width="0.35"/>
<text x="626.5" y="243.7" font-family='"Liberation Sans", sans-serif' font-size="2.8" fill="#222" text-anchor="middle">1,380</text>
<line x1="652.95" y1="224.4" x2="652.95" y2="239.8" stroke="#ddd" stroke-width="0.35"/>
<text x="652.95" y="233.77" font-family='"Liberation Sans", sans-serif' font-size="2.8" fill="#45b3d6" text-anchor="middle">3</text>
<text x="652.95" y="239.01" font-family='"Liberation Sans", sans-serif' font-size="2.8" fill="#d92b2b" text-anchor="middle">1</text>
<line x1="652.95" y1="239.8" x2="652.95" y2="240.7" stroke="#444" stroke-width="0.35"/>
<text x="652.95" y="243.7" font-family='"Liberation Sans", sans-serif' font-size="2.8" fill="#222" text-anchor="middle">2,070</text>
<line x1="679.4" y1="224.4" x2="679.4" y2="239.8" stroke="#ddd" stroke-width="0.35"/>
<text x="679.4" y="233.77" font-family='"Liberation Sans", sans-serif' font-size="2.8" fill="#45b3d6" text-anchor="middle">1</text>
<text x="679.4" y="239.01" font-family='"Liberation Sans", sans-serif' font-size="2.8" fill="#d92b2b" text-anchor="middle">1</text>
<line x1="679.4" y1="239.8" x2="679.4" y2="240.7" stroke="#444" stroke-width="0.35"/>
<text x="679.4" y="243.7" font-family='"Liberation Sans", sans-serif' font-size="2.8" fill="#222" text-anchor="middle">2,760</text>
<text x="626.05" y="247.5" font-family='"Liberation Sans", sans-serif' font-size="3.3" fill="#222" text-anchor="middle">Overall survival</text>
<g font-family='"Liberation Sans", sans-serif' font-size="3.0" fill="#111" text-anchor="end">
<text x="277.8" y="272.95">1.0</text>
<line x1="278.1" y1="271.9" x2="279.3" y2="271.9" stroke="#555" stroke-width="0.3"/>
<text x="277.8" y="292">0.8</text>
<line x1="278.1" y1="290.95" x2="279.3" y2="290.95" stroke="#555" stroke-width="0.3"/>
<text x="277.8" y="311.05">0.5</text>
<line x1="278.1" y1="310" x2="279.3" y2="310" stroke="#555" stroke-width="0.3"/>
<text x="277.8" y="330.1">0.3</text>
<line x1="278.1" y1="329.05" x2="279.3" y2="329.05" stroke="#555" stroke-width="0.3"/>
<text x="277.8" y="349.15">0.0</text>
<line x1="278.1" y1="348.1" x2="279.3" y2="348.1" stroke="#555" stroke-width="0.3"/>
</g>
<text transform="translate(273.1,310.1) rotate(-90)" font-family='"Liberation Sans", sans-serif' font-size="3.4" fill="#333" text-anchor="middle">Survival probability</text>
<line x1="282.3" y1="310.1" x2="333" y2="310.1" stroke="#777" stroke-width="0.45" stroke-dasharray="1.6,0.9"/>
<line x1="287.6" y1="310.1" x2="287.6" y2="349.6" stroke="#777" stroke-width="0.45" stroke-dasharray="1.6,0.9"/>
<line x1="333" y1="310.1" x2="333" y2="349.6" stroke="#777" stroke-width="0.45" stroke-dasharray="1.6,0.9"/>
<polyline points="282.3,271.9 284.9,274.6 287.6,279 290.2,281.6 292.8,286.9 294.6,292.2 298.1,293 300.8,294.8 303.4,296.6 311.3,297.4 312.2,300.1 325.4,300.4 327.2,304.8 332.4,305.7 333.3,311.2 382.6,311.2" fill="none" stroke="#45b3d6" stroke-width="0.65" stroke-linejoin="round"/>
<polyline points="282.3,271.9 283.2,279.8 284,286.9 284.9,294.8 286.2,304.5 287.6,310.1 288.4,313.3 292,315 293.7,318.2 296.4,321.2 299,324.7 302.5,327.7 306,330.3 383.5,330.3" fill="none" stroke="#d92b2b" stroke-width="0.65" stroke-linejoin="round"/>
<line x1="314.98" y1="299.35" x2="314.98" y2="300.85" stroke="#45b3d6" stroke-width="0.5"/>
<line x1="323.71" y1="299.35" x2="323.71" y2="300.85" stroke="#45b3d6" stroke-width="0.5"/>
<line x1="338.86" y1="310.45" x2="338.86" y2="311.95" stroke="#45b3d6" stroke-width="0.5"/>
<line x1="350.17" y1="310.45" x2="350.17" y2="311.95" stroke="#45b3d6" stroke-width="0.5"/>
<line x1="357.57" y1="310.45" x2="357.57" y2="311.95" stroke="#45b3d6" stroke-width="0.5"/>
<line x1="368.93" y1="310.45" x2="368.93" y2="311.95" stroke="#45b3d6" stroke-width="0.5"/>
<line x1="376.84" y1="310.45" x2="376.84" y2="311.95" stroke="#45b3d6" stroke-width="0.5"/>
<line x1="308.02" y1="329.55" x2="308.02" y2="331.05" stroke="#d92b2b" stroke-width="0.5"/>
<line x1="316.21" y1="329.55" x2="316.21" y2="331.05" stroke="#d92b2b" stroke-width="0.5"/>
<line x1="327.5" y1="329.55" x2="327.5" y2="331.05" stroke="#d92b2b" stroke-width="0.5"/>
<line x1="333.7" y1="329.55" x2="333.7" y2="331.05" stroke="#d92b2b" stroke-width="0.5"/>
<line x1="346.39" y1="329.55" x2="346.39" y2="331.05" stroke="#d92b2b" stroke-width="0.5"/>
<line x1="358.75" y1="329.55" x2="358.75" y2="331.05" stroke="#d92b2b" stroke-width="0.5"/>
<line x1="369.08" y1="329.55" x2="369.08" y2="331.05" stroke="#d92b2b" stroke-width="0.5"/>
<line x1="377.8" y1="329.55" x2="377.8" y2="331.05" stroke="#d92b2b" stroke-width="0.5"/>
<text x="342.1" y="272.4" font-family='"Liberation Sans", sans-serif' font-weight="bold" font-size="2.7" fill="#111">SLAMF9 in ACC Exp</text>
<rect x="342.4" y="274" width="2.5" height="2.4" fill="#45b3d6"/>
<rect x="342.4" y="277.8" width="2.5" height="2.4" fill="#d92b2b"/>
<text x="345.9" y="276.3" font-family='"Liberation Sans", sans-serif' font-size="2.9" fill="#45b3d6">L</text>
<text x="345.9" y="280.1" font-family='"Liberation Sans", sans-serif' font-size="2.9" fill="#d92b2b">H</text>
<g font-family='"Liberation Sans", sans-serif' font-size="3.4" fill="#111">
<text x="288.6" y="344">p=1.8e-8</text>
<text x="288.6" y="348.6">HR=3.15,95%CI(1.67,3.94)</text>
<text x="287.6" y="351.3" text-anchor="middle">258</text>
<text x="333" y="351.3" text-anchor="middle">2331</text>
</g>
<rect x="279.3" y="267.8" width="105.7" height="99.4" fill="none" stroke="#b8b8b8" stroke-width="1.2"/>
<line x1="279.3" y1="352.4" x2="385" y2="352.4" stroke="#959595" stroke-width="1.2"/>
<line x1="279.3" y1="267.2" x2="279.3" y2="367.8" stroke="#959595" stroke-width="1.2"/>
<line x1="279.3" y1="367.2" x2="385" y2="367.2" stroke="#8a8a8a" stroke-width="1.0"/>
<line x1="279.3" y1="357.14" x2="385" y2="357.14" stroke="#ccc" stroke-width="0.35" stroke-dasharray="0.8,0.6"/>
<line x1="279.3" y1="362.32" x2="385" y2="362.32" stroke="#ccc" stroke-width="0.35" stroke-dasharray="0.8,0.6"/>
<text x="280" y="356.56" font-family='"Liberation Sans", sans-serif' font-size="3.3" fill="#222">Number at risk</text>
<text x="278.1" y="361.34" font-family='"Liberation Sans", sans-serif' font-size="2.8" fill="#45b3d6" text-anchor="end">L</text>
<text x="278.1" y="366.37" font-family='"Liberation Sans", sans-serif' font-size="2.8" fill="#d92b2b" text-anchor="end">H</text>
<text x="282.3" y="361.44" font-family='"Liberation Sans", sans-serif' font-size="2.8" fill="#45b3d6" text-anchor="middle">49</text>
<text x="282.3" y="366.47" font-family='"Liberation Sans", sans-serif' font-size="2.8" fill="#d92b2b" text-anchor="middle">28</text>
<line x1="282.3" y1="367.2" x2="282.3" y2="368.1" stroke="#444" stroke-width="0.35"/>
<text x="282.3" y="371.1" font-family='"Liberation Sans", sans-serif' font-size="2.8" fill="#222" text-anchor="middle">0</text>
<line x1="307.38" y1="352.4" x2="307.38" y2="367.2" stroke="#ddd" stroke-width="0.35"/>
<text x="307.38" y="361.44" font-family='"Liberation Sans", sans-serif' font-size="2.8" fill="#45b3d6" text-anchor="middle">12</text>
<text x="307.38" y="366.47" font-family='"Liberation Sans", sans-serif' font-size="2.8" fill="#d92b2b" text-anchor="middle">6</text>
<line x1="307.38" y1="367.2" x2="307.38" y2="368.1" stroke="#444" stroke-width="0.35"/>
<text x="307.38" y="371.1" font-family='"Liberation Sans", sans-serif' font-size="2.8" fill="#222" text-anchor="middle">1,164</text>
<line x1="332.45" y1="352.4" x2="332.45" y2="367.2" stroke="#ddd" stroke-width="0.35"/>
<text x="332.45" y="361.44" font-family='"Liberation Sans", sans-serif' font-size="2.8" fill="#45b3d6" text-anchor="middle">7</text>
<text x="332.45" y="366.47" font-family='"Liberation Sans", sans-serif' font-size="2.8" fill="#d92b2b" text-anchor="middle">5</text>
<line x1="332.45" y1="367.2" x2="332.45" y2="368.1" stroke="#444" stroke-width="0.35"/>
<text x="332.45" y="371.1" font-family='"Liberation Sans", sans-serif' font-size="2.8" fill="#222" text-anchor="middle">2,328</text>
<line x1="357.53" y1="352.4" x2="357.53" y2="367.2" stroke="#ddd" stroke-width="0.35"/>
<text x="357.53" y="361.44" font-family='"Liberation Sans", sans-serif' font-size="2.8" fill="#45b3d6" text-anchor="middle">3</text>
<text x="357.53" y="366.47" font-family='"Liberation Sans", sans-serif' font-size="2.8" fill="#d92b2b" text-anchor="middle">1</text>
<line x1="357.53" y1="367.2" x2="357.53" y2="368.1" stroke="#444" stroke-width="0.35"/>
<text x="357.53" y="371.1" font-family='"Liberation Sans", sans-serif' font-size="2.8" fill="#222" text-anchor="middle">3,492</text>
<line x1="382.6" y1="352.4" x2="382.6" y2="367.2" stroke="#ddd" stroke-width="0.35"/>
<text x="382.6" y="361.44" font-family='"Liberation Sans", sans-serif' font-size="2.8" fill="#45b3d6" text-anchor="middle">1</text>
<text x="382.6" y="366.47" font-family='"Liberation Sans", sans-serif' font-size="2.8" fill="#d92b2b" text-anchor="middle">1</text>
<line x1="382.6" y1="367.2" x2="382.6" y2="368.1" stroke="#444" stroke-width="0.35"/>
<text x="382.6" y="371.1" font-family='"Liberation Sans", sans-serif' font-size="2.8" fill="#222" text-anchor="middle">4,656</text>
<text x="332.15" y="374.9" font-family='"Liberation Sans", sans-serif' font-size="3.3" fill="#222" text-anchor="middle">Progression-free interval</text>
<g font-family='"Liberation Sans", sans-serif' font-size="3.0" fill="#111" text-anchor="end">
<text x="420.9" y="274.25">1.0</text>
<line x1="421.2" y1="273.2" x2="422.4" y2="273.2" stroke="#555" stroke-width="0.3"/>
<text x="420.9" y="294.03">0.8</text>
<line x1="421.2" y1="292.98" x2="422.4" y2="292.98" stroke="#555" stroke-width="0.3"/>
<text x="420.9" y="313.8">0.5</text>
<line x1="421.2" y1="312.75" x2="422.4" y2="312.75" stroke="#555" stroke-width="0.3"/>
<text x="420.9" y="333.57">0.3</text>
<line x1="421.2" y1="332.52" x2="422.4" y2="332.52" stroke="#555" stroke-width="0.3"/>
<text x="420.9" y="353.35">0.0</text>
<line x1="421.2" y1="352.3" x2="422.4" y2="352.3" stroke="#555" stroke-width="0.3"/>
</g>
<text transform="translate(416.2,312.75) rotate(-90)" font-family='"Liberation Sans", sans-serif' font-size="3.4" fill="#333" text-anchor="middle">Survival probability</text>
<line x1="425.2" y1="312.8" x2="455.7" y2="312.8" stroke="#777" stroke-width="0.45" stroke-dasharray="1.6,0.9"/>
<line x1="432.5" y1="312.8" x2="432.5" y2="353.8" stroke="#777" stroke-width="0.45" stroke-dasharray="1.6,0.9"/>
<line x1="455.5" y1="312.8" x2="455.5" y2="353.8" stroke="#777" stroke-width="0.45" stroke-dasharray="1.6,0.9"/>
<polyline points="425.2,273.2 427.4,276 429.2,281.5 432,287 434.7,291.6 438.4,295.3 442.1,300.8 445.8,303.6 449.4,307.2 453.1,310 456.8,312.8 457.7,317.4 462.3,317.4 466,320.1 473.4,323.8 478.9,325.6 483.5,326.6 485.3,331.2 489.9,333.9 497.3,335.8 500,338 508.3,338 512.9,345 531.3,345" fill="none" stroke="#45b3d6" stroke-width="0.75" stroke-linejoin="round"/>
<polyline points="425.2,273.2 426.4,282.4 427.7,293.4 429.2,304.5 431,310 432.5,315.5 434.4,322.9 436.6,330.2 440.2,333 443.9,334.8 446.7,336.7 449.4,340.4 453.1,343.1 455,344.6 482.6,344.6" fill="none" stroke="#d92b2b" stroke-width="0.7" stroke-linejoin="round"/>
<polyline points="425.2,273.2 427.4,276 429.2,281.5 432,287 434.7,291.6 438.4,295.3 442.1,300.8 445.8,303.6 449.4,307.2 453.1,310 456.8,312.8 457.7,317.4 462.3,317.4" fill="none" stroke="#45b3d6" stroke-width="1.4" stroke-linejoin="round"/>
<line x1="503.18" y1="337.25" x2="503.18" y2="338.75" stroke="#45b3d6" stroke-width="0.5"/>
<line x1="515.61" y1="344.25" x2="515.61" y2="345.75" stroke="#45b3d6" stroke-width="0.5"/>
<line x1="524.15" y1="344.25" x2="524.15" y2="345.75" stroke="#45b3d6" stroke-width="0.5"/>
<line x1="458.79" y1="343.85" x2="458.79" y2="345.35" stroke="#d92b2b" stroke-width="0.5"/>
<line x1="466.42" y1="343.85" x2="466.42" y2="345.35" stroke="#d92b2b" stroke-width="0.5"/>
<line x1="473.01" y1="343.85" x2="473.01" y2="345.35" stroke="#d92b2b" stroke-width="0.5"/>
<text x="489.9" y="272.4" font-family='"Liberation Sans", sans-serif' font-weight="bold" font-size="2.7" fill="#111">SLAMF9 in GBMLGG Exp</text>
<rect x="490.2" y="274" width="2.5" height="2.4" fill="#45b3d6"/>
<rect x="490.2" y="277.8" width="2.5" height="2.4" fill="#d92b2b"/>
<text x="493.7" y="276.3" font-family='"Liberation Sans", sans-serif' font-size="2.9" fill="#45b3d6">L</text>
<text x="493.7" y="280.1" font-family='"Liberation Sans", sans-serif' font-size="2.9" fill="#d92b2b">H</text>
<g font-family='"Liberation Sans", sans-serif' font-size="3.4" fill="#111">
<text x="423.3" y="347.9">p=1.0e-28</text>
<text x="423.3" y="351.8">HR=3.51,95%CI(2.78,4.43)</text>
<text x="432.9" y="355.9" text-anchor="middle">380</text>
<text x="455.5" y="355.9" text-anchor="middle">1539</text>
</g>
<rect x="422.4" y="268" width="110.2" height="104.9" fill="none" stroke="#b8b8b8" stroke-width="1.2"/>
<line x1="422.4" y1="357.5" x2="532.6" y2="357.5" stroke="#959595" stroke-width="1.2"/>
<line x1="422.4" y1="267.4" x2="422.4" y2="373.5" stroke="#959595" stroke-width="1.2"/>
<line x1="422.4" y1="372.9" x2="532.6" y2="372.9" stroke="#8a8a8a" stroke-width="1.0"/>
<line x1="422.4" y1="362.43" x2="532.6" y2="362.43" stroke="#ccc" stroke-width="0.35" stroke-dasharray="0.8,0.6"/>
<line x1="422.4" y1="367.82" x2="532.6" y2="367.82" stroke="#ccc" stroke-width="0.35" stroke-dasharray="0.8,0.6"/>
<text x="423.1" y="361.79" font-family='"Liberation Sans", sans-serif' font-size="3.3" fill="#222">Number at risk</text>
<text x="421.2" y="366.77" font-family='"Liberation Sans", sans-serif' font-size="2.8" fill="#45b3d6" text-anchor="end">L</text>
<text x="421.2" y="372.01" font-family='"Liberation Sans", sans-serif' font-size="2.8" fill="#d92b2b" text-anchor="end">H</text>
<text x="425.2" y="366.87" font-family='"Liberation Sans", sans-serif' font-size="2.8" fill="#45b3d6" text-anchor="middle">417</text>
<text x="425.2" y="372.11" font-family='"Liberation Sans", sans-serif' font-size="2.8" fill="#d92b2b" text-anchor="middle">180</text>
<line x1="425.2" y1="372.9" x2="425.2" y2="373.8" stroke="#444" stroke-width="0.35"/>
<text x="425.2" y="376.8" font-family='"Liberation Sans", sans-serif' font-size="2.8" fill="#222" text-anchor="middle">0</text>
<line x1="451.72" y1="357.5" x2="451.72" y2="372.9" stroke="#ddd" stroke-width="0.35"/>
<text x="451.72" y="366.87" font-family='"Liberation Sans", sans-serif' font-size="2.8" fill="#45b3d6" text-anchor="middle">68</text>
<text x="451.72" y="372.11" font-family='"Liberation Sans", sans-serif' font-size="2.8" fill="#d92b2b" text-anchor="middle">1</text>
<line x1="451.72" y1="372.9" x2="451.72" y2="373.8" stroke="#444" stroke-width="0.35"/>
<text x="451.72" y="376.8" font-family='"Liberation Sans", sans-serif' font-size="2.8" fill="#222" text-anchor="middle">1,313</text>
<line x1="478.25" y1="357.5" x2="478.25" y2="372.9" stroke="#ddd" stroke-width="0.35"/>
<text x="478.25" y="366.87" font-family='"Liberation Sans", sans-serif' font-size="2.8" fill="#45b3d6" text-anchor="middle">18</text>
<text x="478.25" y="372.11" font-family='"Liberation Sans", sans-serif' font-size="2.8" fill="#d92b2b" text-anchor="middle">1</text>
<line x1="478.25" y1="372.9" x2="478.25" y2="373.8" stroke="#444" stroke-width="0.35"/>
<text x="478.25" y="376.8" font-family='"Liberation Sans", sans-serif' font-size="2.8" fill="#222" text-anchor="middle">2,626</text>
<line x1="504.77" y1="357.5" x2="504.77" y2="372.9" stroke="#ddd" stroke-width="0.35"/>
<text x="504.77" y="366.87" font-family='"Liberation Sans", sans-serif' font-size="2.8" fill="#45b3d6" text-anchor="middle">3</text>
<text x="504.77" y="372.11" font-family='"Liberation Sans", sans-serif' font-size="2.8" fill="#d92b2b" text-anchor="middle">1</text>
<line x1="504.77" y1="372.9" x2="504.77" y2="373.8" stroke="#444" stroke-width="0.35"/>
<text x="504.77" y="376.8" font-family='"Liberation Sans", sans-serif' font-size="2.8" fill="#222" text-anchor="middle">3,939</text>
<line x1="531.3" y1="357.5" x2="531.3" y2="372.9" stroke="#ddd" stroke-width="0.35"/>
<text x="531.3" y="366.87" font-family='"Liberation Sans", sans-serif' font-size="2.8" fill="#45b3d6" text-anchor="middle">1</text>
<text x="531.3" y="372.11" font-family='"Liberation Sans", sans-serif' font-size="2.8" fill="#d92b2b" text-anchor="middle">1</text>
<line x1="531.3" y1="372.9" x2="531.3" y2="373.8" stroke="#444" stroke-width="0.35"/>
<text x="531.3" y="376.8" font-family='"Liberation Sans", sans-serif' font-size="2.8" fill="#222" text-anchor="middle">5,252</text>
<text x="477.5" y="380.6" font-family='"Liberation Sans", sans-serif' font-size="3.3" fill="#222" text-anchor="middle">Progression-free interval</text>
<g font-family='"Liberation Sans", sans-serif' font-size="3.0" fill="#111" text-anchor="end">
<text x="569.9" y="273.35">1.0</text>
<line x1="570.2" y1="272.3" x2="571.4" y2="272.3" stroke="#555" stroke-width="0.3"/>
<text x="569.9" y="293.25">0.8</text>
<line x1="570.2" y1="292.2" x2="571.4" y2="292.2" stroke="#555" stroke-width="0.3"/>
<text x="569.9" y="313.15">0.5</text>
<line x1="570.2" y1="312.1" x2="571.4" y2="312.1" stroke="#555" stroke-width="0.3"/>
<text x="569.9" y="333.05">0.3</text>
<line x1="570.2" y1="332" x2="571.4" y2="332" stroke="#555" stroke-width="0.3"/>
<text x="569.9" y="352.95">0.0</text>
<line x1="570.2" y1="351.9" x2="571.4" y2="351.9" stroke="#555" stroke-width="0.3"/>
</g>
<text transform="translate(565.2,312.35) rotate(-90)" font-family='"Liberation Sans", sans-serif' font-size="3.4" fill="#333" text-anchor="middle">Survival probability</text>
<line x1="574.1" y1="312.2" x2="679.7" y2="312.2" stroke="#777" stroke-width="0.45" stroke-dasharray="1.6,0.9"/>
<line x1="644.4" y1="312.2" x2="644.4" y2="353.4" stroke="#777" stroke-width="0.45" stroke-dasharray="1.6,0.9"/>
<line x1="679.7" y1="312.2" x2="679.7" y2="353.4" stroke="#777" stroke-width="0.45" stroke-dasharray="1.6,0.9"/>
<polyline points="574.1,272.3 575.4,276 577.3,279.6 580,282.4 583.7,285.1 589.2,287.5 596.6,289.7 602.1,291.6 607.6,294.3 613.1,296.7 618.6,298.9 624.1,300.8 629.7,301.7 631.5,305.9 641.6,306.6 641.6,309.6 644.4,310.3 680.2,310.3" fill="none" stroke="#45b3d6" stroke-width="0.75" stroke-linejoin="round"/>
<polyline points="574.1,272.3 575.4,277.8 578.2,284.2 581.9,288.8 585.5,293.4 588.3,296.2 592.9,297.1 596.6,298.9 602.1,301.7 607.6,303.5 609.4,304.8 616.8,306.3 621.4,309 644.4,309.6" fill="none" stroke="#d92b2b" stroke-width="1.0" stroke-linejoin="round"/>
<polyline points="574.1,272.3 575.4,276 577.3,279.6 580,282.4 583.7,285.1 589.2,287.5 596.6,289.7 602.1,291.6 607.6,294.3 613.1,296.7 618.6,298.9 624.1,300.8 629.7,301.7 631.5,305.9" fill="none" stroke="#45b3d6" stroke-width="1.3" stroke-linejoin="round"/>
<line x1="649.97" y1="309.55" x2="649.97" y2="311.05" stroke="#45b3d6" stroke-width="0.5"/>
<line x1="659.44" y1="309.55" x2="659.44" y2="311.05" stroke="#45b3d6" stroke-width="0.5"/>
<line x1="671.5" y1="309.55" x2="671.5" y2="311.05" stroke="#45b3d6" stroke-width="0.5"/>
<text x="636.6" y="272.4" font-family='"Liberation Sans", sans-serif' font-weight="bold" font-size="2.7" fill="#111">SLAMF9 in KIPAN Exp</text>
<rect x="636.9" y="274" width="2.5" height="2.4" fill="#45b3d6"/>
<rect x="636.9" y="277.8" width="2.5" height="2.4" fill="#d92b2b"/>
<text x="640.4" y="276.3" font-family='"Liberation Sans", sans-serif' font-size="2.9" fill="#45b3d6">L</text>
<text x="640.4" y="280.1" font-family='"Liberation Sans", sans-serif' font-size="2.9" fill="#d92b2b">H</text>
<g font-family='"Liberation Sans", sans-serif' font-size="3.4" fill="#111">
<text x="572.4" y="349.8">p=6.0e-3</text>
<text x="572.4" y="354.7">HR=1.91,95%CI(1.13,3.08)</text>
<text x="644.9" y="355.1" text-anchor="middle">3950</text>
<text x="679.7" y="355.1" text-anchor="middle">5935</text>
</g>
<rect x="571.4" y="268" width="110.6" height="104.7" fill="none" stroke="#b8b8b8" stroke-width="1.2"/>
<line x1="571.4" y1="356.7" x2="682" y2="356.7" stroke="#959595" stroke-width="1.2"/>
<line x1="571.4" y1="267.4" x2="571.4" y2="373.3" stroke="#959595" stroke-width="1.2"/>
<line x1="571.4" y1="372.7" x2="682" y2="372.7" stroke="#8a8a8a" stroke-width="1.0"/>
<line x1="571.4" y1="361.82" x2="682" y2="361.82" stroke="#ccc" stroke-width="0.35" stroke-dasharray="0.8,0.6"/>
<line x1="571.4" y1="367.42" x2="682" y2="367.42" stroke="#ccc" stroke-width="0.35" stroke-dasharray="0.8,0.6"/>
<text x="572.1" y="361.12" font-family='"Liberation Sans", sans-serif' font-size="3.3" fill="#222">Number at risk</text>
<text x="570.2" y="366.3" font-family='"Liberation Sans", sans-serif' font-size="2.8" fill="#45b3d6" text-anchor="end">L</text>
<text x="570.2" y="371.74" font-family='"Liberation Sans", sans-serif' font-size="2.8" fill="#d92b2b" text-anchor="end">H</text>
<text x="574.1" y="366.4" font-family='"Liberation Sans", sans-serif' font-size="2.8" fill="#45b3d6" text-anchor="middle">530</text>
<text x="574.1" y="371.84" font-family='"Liberation Sans", sans-serif' font-size="2.8" fill="#d92b2b" text-anchor="middle">312</text>
<line x1="574.1" y1="372.7" x2="574.1" y2="373.6" stroke="#444" stroke-width="0.35"/>
<text x="574.1" y="376.6" font-family='"Liberation Sans", sans-serif' font-size="2.8" fill="#222" text-anchor="middle">0</text>
<line x1="600.62" y1="356.7" x2="600.62" y2="372.7" stroke="#ddd" stroke-width="0.35"/>
<text x="600.62" y="366.4" font-family='"Liberation Sans", sans-serif' font-size="2.8" fill="#45b3d6" text-anchor="middle">196</text>
<text x="600.62" y="371.84" font-family='"Liberation Sans", sans-serif' font-size="2.8" fill="#d92b2b" text-anchor="middle">53</text>
<line x1="600.62" y1="372.7" x2="600.62" y2="373.6" stroke="#444" stroke-width="0.35"/>
<text x="600.62" y="376.6" font-family='"Liberation Sans", sans-serif' font-size="2.8" fill="#222" text-anchor="middle">1,481</text>
<line x1="627.15" y1="356.7" x2="627.15" y2="372.7" stroke="#ddd" stroke-width="0.35"/>
<text x="627.15" y="366.4" font-family='"Liberation Sans", sans-serif' font-size="2.8" fill="#45b3d6" text-anchor="middle">52</text>
<text x="627.15" y="371.84" font-family='"Liberation Sans", sans-serif' font-size="2.8" fill="#d92b2b" text-anchor="middle">10</text>
<line x1="627.15" y1="372.7" x2="627.15" y2="373.6" stroke="#444" stroke-width="0.35"/>
<text x="627.15" y="376.6" font-family='"Liberation Sans", sans-serif' font-size="2.8" fill="#222" text-anchor="middle">2,962</text>
<line x1="653.68" y1="356.7" x2="653.68" y2="372.7" stroke="#ddd" stroke-width="0.35"/>
<text x="653.68" y="366.4" font-family='"Liberation Sans", sans-serif' font-size="2.8" fill="#45b3d6" text-anchor="middle">3</text>
<text x="653.68" y="371.84" font-family='"Liberation Sans", sans-serif' font-size="2.8" fill="#d92b2b" text-anchor="middle">1</text>
<line x1="653.68" y1="372.7" x2="653.68" y2="373.6" stroke="#444" stroke-width="0.35"/>
<text x="653.68" y="376.6" font-family='"Liberation Sans", sans-serif' font-size="2.8" fill="#222" text-anchor="middle">4,443</text>
<line x1="680.2" y1="356.7" x2="680.2" y2="372.7" stroke="#ddd" stroke-width="0.35"/>
<text x="680.2" y="366.4" font-family='"Liberation Sans", sans-serif' font-size="2.8" fill="#45b3d6" text-anchor="middle">1</text>
<text x="680.2" y="371.84" font-family='"Liberation Sans", sans-serif' font-size="2.8" fill="#d92b2b" text-anchor="middle">1</text>
<line x1="680.2" y1="372.7" x2="680.2" y2="373.6" stroke="#444" stroke-width="0.35"/>
<text x="680.2" y="376.6" font-family='"Liberation Sans", sans-serif' font-size="2.8" fill="#222" text-anchor="middle">5,924</text>
<text x="626.7" y="380.4" font-family='"Liberation Sans", sans-serif' font-size="3.3" fill="#222" text-anchor="middle">Progression-free interval</text>
<g font-family='"Liberation Sans", sans-serif' font-size="3.0" fill="#111" text-anchor="end">
<text x="277.6" y="401.95">1.0</text>
<line x1="277.9" y1="400.9" x2="279.1" y2="400.9" stroke="#555" stroke-width="0.3"/>
<text x="277.6" y="420.88">0.8</text>
<line x1="277.9" y1="419.82" x2="279.1" y2="419.82" stroke="#555" stroke-width="0.3"/>
<text x="277.6" y="439.8">0.5</text>
<line x1="277.9" y1="438.75" x2="279.1" y2="438.75" stroke="#555" stroke-width="0.3"/>
<text x="277.6" y="458.73">0.3</text>
<line x1="277.9" y1="457.68" x2="279.1" y2="457.68" stroke="#555" stroke-width="0.3"/>
<text x="277.6" y="477.65">0.0</text>
<line x1="277.9" y1="476.6" x2="279.1" y2="476.6" stroke="#555" stroke-width="0.3"/>
</g>
<text transform="translate(272.9,439) rotate(-90)" font-family='"Liberation Sans", sans-serif' font-size="3.4" fill="#333" text-anchor="middle">Survival probability</text>
<line x1="282.3" y1="439.1" x2="374.7" y2="439.1" stroke="#777" stroke-width="0.45" stroke-dasharray="1.6,0.9"/>
<line x1="331.6" y1="439.1" x2="331.6" y2="478.1" stroke="#777" stroke-width="0.45" stroke-dasharray="1.6,0.9"/>
<line x1="374.7" y1="439.1" x2="374.7" y2="478.1" stroke="#777" stroke-width="0.45" stroke-dasharray="1.6,0.9"/>
<polyline points="282.3,400.9 284,403.6 287.6,407.1 292.8,410.6 298.1,413.8 303.4,415.9 308.7,417.6 314,419 319.2,420.3 324.5,422 329.8,424.3 335.1,426.1 340.4,428.2 343.9,429.4 349.2,429.4 350,432.6 361.5,432.6 362.4,435.2 374.7,435.2 375.2,443.2 382.6,444" fill="none" stroke="#45b3d6" stroke-width="0.8" stroke-linejoin="round"/>
<polyline points="282.3,400.9 284,406.2 286.7,411.5 289.3,415.9 292.8,420.3 296.4,423.8 299,427.3 301.6,428.2 308.7,428.6 312.2,430 315.7,432.1 321,434.4 326.3,435.6 329.8,436.6 331.6,440.2 347.4,440.2 348.3,443.5 380.8,443.5" fill="none" stroke="#d92b2b" stroke-width="0.9" stroke-linejoin="round"/>
<polyline points="282.3,400.9 284,403.6 287.6,407.1 292.8,410.6 298.1,413.8 303.4,415.9 308.7,417.6 314,419 319.2,420.3 324.5,422 329.8,424.3 335.1,426.1 340.4,428.2 343.9,429.4" fill="none" stroke="#45b3d6" stroke-width="1.1" stroke-linejoin="round"/>
<line x1="348.08" y1="428.65" x2="348.08" y2="430.15" stroke="#45b3d6" stroke-width="0.5"/>
<line x1="352.14" y1="431.85" x2="352.14" y2="433.35" stroke="#45b3d6" stroke-width="0.5"/>
<line x1="358.5" y1="431.85" x2="358.5" y2="433.35" stroke="#45b3d6" stroke-width="0.5"/>
<line x1="366.47" y1="434.45" x2="366.47" y2="435.95" stroke="#45b3d6" stroke-width="0.5"/>
<line x1="336.24" y1="439.45" x2="336.24" y2="440.95" stroke="#d92b2b" stroke-width="0.5"/>
<line x1="346.33" y1="439.45" x2="346.33" y2="440.95" stroke="#d92b2b" stroke-width="0.5"/>
<line x1="351.53" y1="442.75" x2="351.53" y2="444.25" stroke="#d92b2b" stroke-width="0.5"/>
<line x1="364.07" y1="442.75" x2="364.07" y2="444.25" stroke="#d92b2b" stroke-width="0.5"/>
<line x1="373.16" y1="442.75" x2="373.16" y2="444.25" stroke="#d92b2b" stroke-width="0.5"/>
<text x="342.1" y="401.4" font-family='"Liberation Sans", sans-serif' font-weight="bold" font-size="2.7" fill="#111">SLAMF9 in KIRC Exp</text>
<rect x="342.4" y="403" width="2.5" height="2.4" fill="#45b3d6"/>
<rect x="342.4" y="406.8" width="2.5" height="2.4" fill="#d92b2b"/>
<text x="345.9" y="405.3" font-family='"Liberation Sans", sans-serif' font-size="2.9" fill="#45b3d6">L</text>
<text x="345.9" y="409.1" font-family='"Liberation Sans", sans-serif' font-size="2.9" fill="#d92b2b">H</text>
<g font-family='"Liberation Sans", sans-serif' font-size="3.4" fill="#111">
<text x="280.6" y="474.3">p=4.5e-4</text>
<text x="280.6" y="479.4">HR=1.88,95%CI(1.39,2.54)</text>
<text x="331.6" y="479.4" text-anchor="middle">1697</text>
<text x="374.7" y="479.4" text-anchor="middle">3718</text>
</g>
<rect x="279.1" y="396.6" width="105.7" height="99.1" fill="none" stroke="#b8b8b8" stroke-width="1.2"/>
<line x1="279.1" y1="481.4" x2="384.8" y2="481.4" stroke="#959595" stroke-width="1.2"/>
<line x1="279.1" y1="396" x2="279.1" y2="496.3" stroke="#959595" stroke-width="1.2"/>
<line x1="279.1" y1="495.7" x2="384.8" y2="495.7" stroke="#8a8a8a" stroke-width="1.0"/>
<line x1="279.1" y1="485.98" x2="384.8" y2="485.98" stroke="#ccc" stroke-width="0.35" stroke-dasharray="0.8,0.6"/>
<line x1="279.1" y1="490.98" x2="384.8" y2="490.98" stroke="#ccc" stroke-width="0.35" stroke-dasharray="0.8,0.6"/>
<text x="279.8" y="485.45" font-family='"Liberation Sans", sans-serif' font-size="3.3" fill="#222">Number at risk</text>
<text x="277.9" y="490.06" font-family='"Liberation Sans", sans-serif' font-size="2.8" fill="#45b3d6" text-anchor="end">L</text>
<text x="277.9" y="494.93" font-family='"Liberation Sans", sans-serif' font-size="2.8" fill="#d92b2b" text-anchor="end">H</text>
<text x="282.3" y="490.16" font-family='"Liberation Sans", sans-serif' font-size="2.8" fill="#45b3d6" text-anchor="middle">276</text>
<text x="282.3" y="495.03" font-family='"Liberation Sans", sans-serif' font-size="2.8" fill="#d92b2b" text-anchor="middle">238</text>
<line x1="282.3" y1="495.7" x2="282.3" y2="496.6" stroke="#444" stroke-width="0.35"/>
<text x="282.3" y="499.6" font-family='"Liberation Sans", sans-serif' font-size="2.8" fill="#222" text-anchor="middle">0</text>
<line x1="307.38" y1="481.4" x2="307.38" y2="495.7" stroke="#ddd" stroke-width="0.35"/>
<text x="307.38" y="490.16" font-family='"Liberation Sans", sans-serif' font-size="2.8" fill="#45b3d6" text-anchor="middle">163</text>
<text x="307.38" y="495.03" font-family='"Liberation Sans", sans-serif' font-size="2.8" fill="#d92b2b" text-anchor="middle">60</text>
<line x1="307.38" y1="495.7" x2="307.38" y2="496.6" stroke="#444" stroke-width="0.35"/>
<text x="307.38" y="499.6" font-family='"Liberation Sans", sans-serif' font-size="2.8" fill="#222" text-anchor="middle">1,159</text>
<line x1="332.45" y1="481.4" x2="332.45" y2="495.7" stroke="#ddd" stroke-width="0.35"/>
<text x="332.45" y="490.16" font-family='"Liberation Sans", sans-serif' font-size="2.8" fill="#45b3d6" text-anchor="middle">72</text>
<text x="332.45" y="495.03" font-family='"Liberation Sans", sans-serif' font-size="2.8" fill="#d92b2b" text-anchor="middle">18</text>
<line x1="332.45" y1="495.7" x2="332.45" y2="496.6" stroke="#444" stroke-width="0.35"/>
<text x="332.45" y="499.6" font-family='"Liberation Sans", sans-serif' font-size="2.8" fill="#222" text-anchor="middle">2,318</text>
<line x1="357.53" y1="481.4" x2="357.53" y2="495.7" stroke="#ddd" stroke-width="0.35"/>
<text x="357.53" y="490.16" font-family='"Liberation Sans", sans-serif' font-size="2.8" fill="#45b3d6" text-anchor="middle">19</text>
<text x="357.53" y="495.03" font-family='"Liberation Sans", sans-serif' font-size="2.8" fill="#d92b2b" text-anchor="middle">4</text>
<line x1="357.53" y1="495.7" x2="357.53" y2="496.6" stroke="#444" stroke-width="0.35"/>
<text x="357.53" y="499.6" font-family='"Liberation Sans", sans-serif' font-size="2.8" fill="#222" text-anchor="middle">3,477</text>
<line x1="382.6" y1="481.4" x2="382.6" y2="495.7" stroke="#ddd" stroke-width="0.35"/>
<text x="382.6" y="490.16" font-family='"Liberation Sans", sans-serif' font-size="2.8" fill="#45b3d6" text-anchor="middle">1</text>
<text x="382.6" y="495.03" font-family='"Liberation Sans", sans-serif' font-size="2.8" fill="#d92b2b" text-anchor="middle">1</text>
<line x1="382.6" y1="495.7" x2="382.6" y2="496.6" stroke="#444" stroke-width="0.35"/>
<text x="382.6" y="499.6" font-family='"Liberation Sans", sans-serif' font-size="2.8" fill="#222" text-anchor="middle">4,636</text>
<text x="331.95" y="503.4" font-family='"Liberation Sans", sans-serif' font-size="3.3" fill="#222" text-anchor="middle">Progression-free interval</text>
<g font-family='"Liberation Sans", sans-serif' font-size="3.0" fill="#111" text-anchor="end">
<text x="420.8" y="402.35">1.0</text>
<line x1="421.1" y1="401.3" x2="422.3" y2="401.3" stroke="#555" stroke-width="0.3"/>
<text x="420.8" y="422.35">0.8</text>
<line x1="421.1" y1="421.3" x2="422.3" y2="421.3" stroke="#555" stroke-width="0.3"/>
<text x="420.8" y="442.35">0.5</text>
<line x1="421.1" y1="441.3" x2="422.3" y2="441.3" stroke="#555" stroke-width="0.3"/>
<text x="420.8" y="462.35">0.3</text>
<line x1="421.1" y1="461.3" x2="422.3" y2="461.3" stroke="#555" stroke-width="0.3"/>
<text x="420.8" y="482.35">0.0</text>
<line x1="421.1" y1="481.3" x2="422.3" y2="481.3" stroke="#555" stroke-width="0.3"/>
</g>
<text transform="translate(416.1,441.35) rotate(-90)" font-family='"Liberation Sans", sans-serif' font-size="3.4" fill="#333" text-anchor="middle">Survival probability</text>
<line x1="425.9" y1="441.8" x2="445.4" y2="441.8" stroke="#777" stroke-width="0.45" stroke-dasharray="1.6,0.9"/>
<line x1="440.6" y1="441.8" x2="440.6" y2="482.8" stroke="#777" stroke-width="0.45" stroke-dasharray="1.6,0.9"/>
<line x1="445.4" y1="441.8" x2="445.4" y2="482.8" stroke="#777" stroke-width="0.45" stroke-dasharray="1.6,0.9"/>
<polyline points="425.9,401.3 428.3,403.1 431,408.6 433.8,413.2 436.6,417.8 438.4,423.4 440.2,429.8 443,433.5 445.8,439.9 447.6,446.4 450.4,449.1 454,451 462.3,452.2 464.2,455.6 472.4,455.9 476.1,460.2 485.3,460.2 487.7,463.3 531.3,463.3" fill="none" stroke="#45b3d6" stroke-width="0.65" stroke-linejoin="round"/>
<polyline points="425.9,401.3 428.3,405.9 431,416 432.9,425.2 435.6,427 437.5,430.7 439.3,433.5 440.6,441.8 442.1,446.4 444.8,448.2 446.7,455.6 448.5,458.3 452.2,459.2 454,464.8 455,468.8 474.3,468.8 484.4,481.3" fill="none" stroke="#d92b2b" stroke-width="0.65" stroke-linejoin="round"/>
<line x1="468.53" y1="454.85" x2="468.53" y2="456.35" stroke="#45b3d6" stroke-width="0.5"/>
<line x1="480.32" y1="459.45" x2="480.32" y2="460.95" stroke="#45b3d6" stroke-width="0.5"/>
<line x1="492.98" y1="462.55" x2="492.98" y2="464.05" stroke="#45b3d6" stroke-width="0.5"/>
<line x1="503.09" y1="462.55" x2="503.09" y2="464.05" stroke="#45b3d6" stroke-width="0.5"/>
<line x1="514.68" y1="462.55" x2="514.68" y2="464.05" stroke="#45b3d6" stroke-width="0.5"/>
<line x1="525.71" y1="462.55" x2="525.71" y2="464.05" stroke="#45b3d6" stroke-width="0.5"/>
<line x1="459.35" y1="468.05" x2="459.35" y2="469.55" stroke="#d92b2b" stroke-width="0.5"/>
<line x1="466.34" y1="468.05" x2="466.34" y2="469.55" stroke="#d92b2b" stroke-width="0.5"/>
<line x1="473.13" y1="468.05" x2="473.13" y2="469.55" stroke="#d92b2b" stroke-width="0.5"/>
<text x="488.1" y="401.4" font-family='"Liberation Sans", sans-serif' font-weight="bold" font-size="2.7" fill="#111">SLAMF9 in PAAD Exp</text>
<rect x="488.4" y="403" width="2.5" height="2.4" fill="#45b3d6"/>
<rect x="488.4" y="406.8" width="2.5" height="2.4" fill="#d92b2b"/>
<text x="491.9" y="405.3" font-family='"Liberation Sans", sans-serif' font-size="2.9" fill="#45b3d6">L</text>
<text x="491.9" y="409.1" font-family='"Liberation Sans", sans-serif' font-size="2.9" fill="#d92b2b">H</text>
<g font-family='"Liberation Sans", sans-serif' font-size="3.4" fill="#111">
<text x="424.5" y="476.8">p=0.01</text>
<text x="424.5" y="480.4">HR=1.65,95%CI(1.11,2.45)</text>
<text x="439.6" y="484.6" text-anchor="middle">398</text>
<text x="446.6" y="484.6" text-anchor="middle">617</text>
</g>
<rect x="422.3" y="397" width="110.9" height="104.5" fill="none" stroke="#b8b8b8" stroke-width="1.2"/>
<line x1="422.3" y1="485.7" x2="533.2" y2="485.7" stroke="#959595" stroke-width="1.2"/>
<line x1="422.3" y1="396.4" x2="422.3" y2="502.1" stroke="#959595" stroke-width="1.2"/>
<line x1="422.3" y1="501.5" x2="533.2" y2="501.5" stroke="#8a8a8a" stroke-width="1.0"/>
<line x1="422.3" y1="490.76" x2="533.2" y2="490.76" stroke="#ccc" stroke-width="0.35" stroke-dasharray="0.8,0.6"/>
<line x1="422.3" y1="496.29" x2="533.2" y2="496.29" stroke="#ccc" stroke-width="0.35" stroke-dasharray="0.8,0.6"/>
<text x="423" y="490.08" font-family='"Liberation Sans", sans-serif' font-size="3.3" fill="#222">Number at risk</text>
<text x="421.1" y="495.19" font-family='"Liberation Sans", sans-serif' font-size="2.8" fill="#45b3d6" text-anchor="end">L</text>
<text x="421.1" y="500.56" font-family='"Liberation Sans", sans-serif' font-size="2.8" fill="#d92b2b" text-anchor="end">H</text>
<text x="425.9" y="495.29" font-family='"Liberation Sans", sans-serif' font-size="2.8" fill="#45b3d6" text-anchor="middle">111</text>
<text x="425.9" y="500.66" font-family='"Liberation Sans", sans-serif' font-size="2.8" fill="#d92b2b" text-anchor="middle">58</text>
<line x1="425.9" y1="501.5" x2="425.9" y2="502.4" stroke="#444" stroke-width="0.35"/>
<text x="425.9" y="505.4" font-family='"Liberation Sans", sans-serif' font-size="2.8" fill="#222" text-anchor="middle">0</text>
<line x1="452.25" y1="485.7" x2="452.25" y2="501.5" stroke="#ddd" stroke-width="0.35"/>
<text x="452.25" y="495.29" font-family='"Liberation Sans", sans-serif' font-size="2.8" fill="#45b3d6" text-anchor="middle">23</text>
<text x="452.25" y="500.66" font-family='"Liberation Sans", sans-serif' font-size="2.8" fill="#d92b2b" text-anchor="middle">9</text>
<line x1="452.25" y1="501.5" x2="452.25" y2="502.4" stroke="#444" stroke-width="0.35"/>
<text x="452.25" y="505.4" font-family='"Liberation Sans", sans-serif' font-size="2.8" fill="#222" text-anchor="middle">685</text>
<line x1="478.6" y1="485.7" x2="478.6" y2="501.5" stroke="#ddd" stroke-width="0.35"/>
<text x="478.6" y="495.29" font-family='"Liberation Sans", sans-serif' font-size="2.8" fill="#45b3d6" text-anchor="middle">3</text>
<text x="478.6" y="500.66" font-family='"Liberation Sans", sans-serif' font-size="2.8" fill="#d92b2b" text-anchor="middle">1</text>
<line x1="478.6" y1="501.5" x2="478.6" y2="502.4" stroke="#444" stroke-width="0.35"/>
<text x="478.6" y="505.4" font-family='"Liberation Sans", sans-serif' font-size="2.8" fill="#222" text-anchor="middle">1,370</text>
<line x1="504.95" y1="485.7" x2="504.95" y2="501.5" stroke="#ddd" stroke-width="0.35"/>
<text x="504.95" y="495.29" font-family='"Liberation Sans", sans-serif' font-size="2.8" fill="#45b3d6" text-anchor="middle">2</text>
<text x="504.95" y="500.66" font-family='"Liberation Sans", sans-serif' font-size="2.8" fill="#d92b2b" text-anchor="middle">1</text>
<line x1="504.95" y1="501.5" x2="504.95" y2="502.4" stroke="#444" stroke-width="0.35"/>
<text x="504.95" y="505.4" font-family='"Liberation Sans", sans-serif' font-size="2.8" fill="#222" text-anchor="middle">2,055</text>
<line x1="531.3" y1="485.7" x2="531.3" y2="501.5" stroke="#ddd" stroke-width="0.35"/>
<text x="531.3" y="495.29" font-family='"Liberation Sans", sans-serif' font-size="2.8" fill="#45b3d6" text-anchor="middle">1</text>
<text x="531.3" y="500.66" font-family='"Liberation Sans", sans-serif' font-size="2.8" fill="#d92b2b" text-anchor="middle">1</text>
<line x1="531.3" y1="501.5" x2="531.3" y2="502.4" stroke="#444" stroke-width="0.35"/>
<text x="531.3" y="505.4" font-family='"Liberation Sans", sans-serif' font-size="2.8" fill="#222" text-anchor="middle">2,740</text>
<text x="477.75" y="509.2" font-family='"Liberation Sans", sans-serif' font-size="3.3" fill="#222" text-anchor="middle">Progression-free interval</text>
<g font-family='"Liberation Sans", sans-serif' font-size="3.0" fill="#111" text-anchor="end">
<text x="569.8" y="402.35">1.0</text>
<line x1="570.1" y1="401.3" x2="571.3" y2="401.3" stroke="#555" stroke-width="0.3"/>
<text x="569.8" y="422.25">0.8</text>
<line x1="570.1" y1="421.2" x2="571.3" y2="421.2" stroke="#555" stroke-width="0.3"/>
<text x="569.8" y="442.15">0.5</text>
<line x1="570.1" y1="441.1" x2="571.3" y2="441.1" stroke="#555" stroke-width="0.3"/>
<text x="569.8" y="462.05">0.3</text>
<line x1="570.1" y1="461" x2="571.3" y2="461" stroke="#555" stroke-width="0.3"/>
<text x="569.8" y="481.95">0.0</text>
<line x1="570.1" y1="480.9" x2="571.3" y2="480.9" stroke="#555" stroke-width="0.3"/>
</g>
<text transform="translate(565.1,441.2) rotate(-90)" font-family='"Liberation Sans", sans-serif' font-size="3.4" fill="#333" text-anchor="middle">Survival probability</text>
<line x1="574.5" y1="441.3" x2="679.7" y2="441.3" stroke="#777" stroke-width="0.45" stroke-dasharray="1.6,0.9"/>
<line x1="672.9" y1="441.3" x2="672.9" y2="482.4" stroke="#777" stroke-width="0.45" stroke-dasharray="1.6,0.9"/>
<line x1="679.7" y1="441.3" x2="679.7" y2="482.4" stroke="#777" stroke-width="0.45" stroke-dasharray="1.6,0.9"/>
<polyline points="574.5,401.3 577.3,403.1 580,403.7 585.5,404.4 589.2,406.2 592.9,407.3 600.3,407.7 601.7,409.2 673.8,409.2" fill="none" stroke="#45b3d6" stroke-width="0.65" stroke-linejoin="round"/>
<polyline points="574.5,401.3 578.2,404 581.9,406.8 584.6,409.5 589.2,410.5 592.9,411.4 596.6,412.9 601.2,414.1 605.8,414.7 608.5,416.5 680.2,416.5" fill="none" stroke="#d92b2b" stroke-width="0.6" stroke-linejoin="round"/>
<polyline points="574.5,401.3 577.3,403.1 580,403.7 585.5,404.4 589.2,406.2 592.9,407.3 600.3,407.7 601.7,409.2" fill="none" stroke="#45b3d6" stroke-width="1.3" stroke-linejoin="round"/>
<polyline points="574.5,401.3 578.2,404 581.9,406.8 584.6,409.5 589.2,410.5 592.9,411.4 596.6,412.9 601.2,414.1 605.8,414.7 608.5,416.5" fill="none" stroke="#d92b2b" stroke-width="1.5" stroke-linejoin="round"/>
<line x1="604.46" y1="408.45" x2="604.46" y2="409.95" stroke="#45b3d6" stroke-width="0.5"/>
<line x1="615.43" y1="408.45" x2="615.43" y2="409.95" stroke="#45b3d6" stroke-width="0.5"/>
<line x1="625.81" y1="408.45" x2="625.81" y2="409.95" stroke="#45b3d6" stroke-width="0.5"/>
<line x1="629.96" y1="408.45" x2="629.96" y2="409.95" stroke="#45b3d6" stroke-width="0.5"/>
<line x1="640.43" y1="408.45" x2="640.43" y2="409.95" stroke="#45b3d6" stroke-width="0.5"/>
<line x1="649.09" y1="408.45" x2="649.09" y2="409.95" stroke="#45b3d6" stroke-width="0.5"/>
<line x1="661.55" y1="408.45" x2="661.55" y2="409.95" stroke="#45b3d6" stroke-width="0.5"/>
<line x1="672.16" y1="408.45" x2="672.16" y2="409.95" stroke="#45b3d6" stroke-width="0.5"/>
<line x1="612.29" y1="415.75" x2="612.29" y2="417.25" stroke="#d92b2b" stroke-width="0.5"/>
<line x1="622.95" y1="415.75" x2="622.95" y2="417.25" stroke="#d92b2b" stroke-width="0.5"/>
<line x1="630.58" y1="415.75" x2="630.58" y2="417.25" stroke="#d92b2b" stroke-width="0.5"/>
<line x1="642.52" y1="415.75" x2="642.52" y2="417.25" stroke="#d92b2b" stroke-width="0.5"/>
<line x1="652.58" y1="415.75" x2="652.58" y2="417.25" stroke="#d92b2b" stroke-width="0.5"/>
<line x1="658.56" y1="415.75" x2="658.56" y2="417.25" stroke="#d92b2b" stroke-width="0.5"/>
<line x1="665.76" y1="415.75" x2="665.76" y2="417.25" stroke="#d92b2b" stroke-width="0.5"/>
<line x1="672.87" y1="415.75" x2="672.87" y2="417.25" stroke="#d92b2b" stroke-width="0.5"/>
<line x1="677.05" y1="415.75" x2="677.05" y2="417.25" stroke="#d92b2b" stroke-width="0.5"/>
<text x="637" y="400.6" font-family='"Liberation Sans", sans-serif' font-weight="bold" font-size="2.7" fill="#111">SLAMF9 in THCA Exp</text>
<rect x="637.3" y="402.2" width="2.5" height="2.4" fill="#45b3d6"/>
<rect x="637.3" y="406" width="2.5" height="2.4" fill="#d92b2b"/>
<text x="640.8" y="404.5" font-family='"Liberation Sans", sans-serif' font-size="2.9" fill="#45b3d6">L</text>
<text x="640.8" y="408.3" font-family='"Liberation Sans", sans-serif' font-size="2.9" fill="#d92b2b">H</text>
<g font-family='"Liberation Sans", sans-serif' font-size="3.4" fill="#111">
<text x="572.2" y="478.9">p=0.03</text>
<text x="572.2" y="483.7">HR=2.08,95%CI(1.04,4.17)</text>
<text x="672" y="484.2" text-anchor="middle">5068</text>
<text x="680" y="484.2" text-anchor="middle">4472</text>
</g>
<rect x="571.3" y="396.8" width="110.2" height="104.7" fill="none" stroke="#b8b8b8" stroke-width="1.2"/>
<line x1="571.3" y1="485.6" x2="681.5" y2="485.6" stroke="#959595" stroke-width="1.2"/>
<line x1="571.3" y1="396.2" x2="571.3" y2="502.1" stroke="#959595" stroke-width="1.2"/>
<line x1="571.3" y1="501.5" x2="681.5" y2="501.5" stroke="#8a8a8a" stroke-width="1.0"/>
<line x1="571.3" y1="490.69" x2="681.5" y2="490.69" stroke="#ccc" stroke-width="0.35" stroke-dasharray="0.8,0.6"/>
<line x1="571.3" y1="496.25" x2="681.5" y2="496.25" stroke="#ccc" stroke-width="0.35" stroke-dasharray="0.8,0.6"/>
<text x="572" y="490" font-family='"Liberation Sans", sans-serif' font-size="3.3" fill="#222">Number at risk</text>
<text x="570.1" y="495.15" font-family='"Liberation Sans", sans-serif' font-size="2.8" fill="#45b3d6" text-anchor="end">L</text>
<text x="570.1" y="500.55" font-family='"Liberation Sans", sans-serif' font-size="2.8" fill="#d92b2b" text-anchor="end">H</text>
<text x="574.5" y="495.25" font-family='"Liberation Sans", sans-serif' font-size="2.8" fill="#45b3d6" text-anchor="middle">174</text>
<text x="574.5" y="500.65" font-family='"Liberation Sans", sans-serif' font-size="2.8" fill="#d92b2b" text-anchor="middle">325</text>
<line x1="574.5" y1="501.5" x2="574.5" y2="502.4" stroke="#444" stroke-width="0.35"/>
<text x="574.5" y="505.4" font-family='"Liberation Sans", sans-serif' font-size="2.8" fill="#222" text-anchor="middle">0</text>
<line x1="600.75" y1="485.6" x2="600.75" y2="501.5" stroke="#ddd" stroke-width="0.35"/>
<text x="600.75" y="495.25" font-family='"Liberation Sans", sans-serif' font-size="2.8" fill="#45b3d6" text-anchor="middle">45</text>
<text x="600.75" y="500.65" font-family='"Liberation Sans", sans-serif' font-size="2.8" fill="#d92b2b" text-anchor="middle">64</text>
<line x1="600.75" y1="501.5" x2="600.75" y2="502.4" stroke="#444" stroke-width="0.35"/>
<text x="600.75" y="505.4" font-family='"Liberation Sans", sans-serif' font-size="2.8" fill="#222" text-anchor="middle">1,355</text>
<line x1="627" y1="485.6" x2="627" y2="501.5" stroke="#ddd" stroke-width="0.35"/>
<text x="627" y="495.25" font-family='"Liberation Sans", sans-serif' font-size="2.8" fill="#45b3d6" text-anchor="middle">9</text>
<text x="627" y="500.65" font-family='"Liberation Sans", sans-serif' font-size="2.8" fill="#d92b2b" text-anchor="middle">10</text>
<line x1="627" y1="501.5" x2="627" y2="502.4" stroke="#444" stroke-width="0.35"/>
<text x="627" y="505.4" font-family='"Liberation Sans", sans-serif' font-size="2.8" fill="#222" text-anchor="middle">2,710</text>
<line x1="653.25" y1="485.6" x2="653.25" y2="501.5" stroke="#ddd" stroke-width="0.35"/>
<text x="653.25" y="495.25" font-family='"Liberation Sans", sans-serif' font-size="2.8" fill="#45b3d6" text-anchor="middle">5</text>
<text x="653.25" y="500.65" font-family='"Liberation Sans", sans-serif' font-size="2.8" fill="#d92b2b" text-anchor="middle">6</text>
<line x1="653.25" y1="501.5" x2="653.25" y2="502.4" stroke="#444" stroke-width="0.35"/>
<text x="653.25" y="505.4" font-family='"Liberation Sans", sans-serif' font-size="2.8" fill="#222" text-anchor="middle">4,065</text>
<line x1="679.5" y1="485.6" x2="679.5" y2="501.5" stroke="#ddd" stroke-width="0.35"/>
<text x="679.5" y="495.25" font-family='"Liberation Sans", sans-serif' font-size="2.8" fill="#45b3d6" text-anchor="middle">1</text>
<text x="679.5" y="500.65" font-family='"Liberation Sans", sans-serif' font-size="2.8" fill="#d92b2b" text-anchor="middle">1</text>
<line x1="679.5" y1="501.5" x2="679.5" y2="502.4" stroke="#444" stroke-width="0.35"/>
<text x="679.5" y="505.4" font-family='"Liberation Sans", sans-serif' font-size="2.8" fill="#222" text-anchor="middle">5,420</text>
<text x="626.4" y="509.2" font-family='"Liberation Sans", sans-serif' font-size="3.3" fill="#222" text-anchor="middle">Progression-free interval</text>
</svg>
</body></html>
